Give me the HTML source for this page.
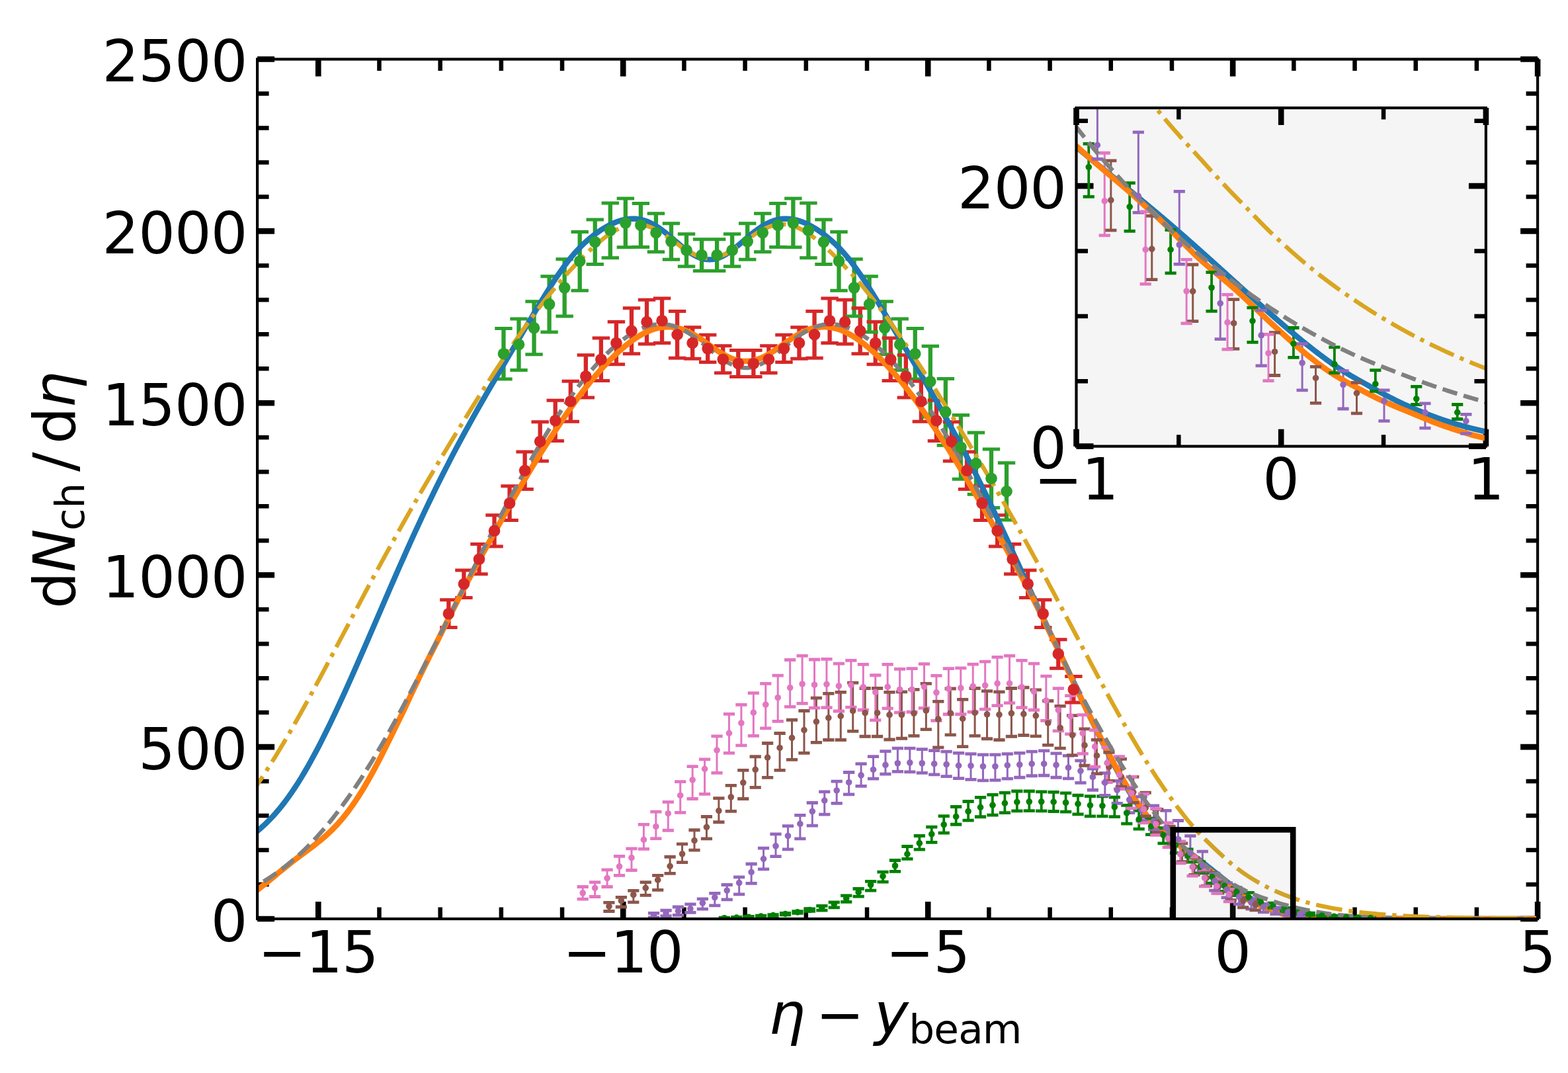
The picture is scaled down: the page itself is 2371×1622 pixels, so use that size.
<!DOCTYPE html>
<html lang="en"><head><meta charset="utf-8"><title>dNch/dη vs η − y_beam</title><style>html,body{margin:0;padding:0;background:#fff}svg{display:block}</style></head><body>
<svg xmlns="http://www.w3.org/2000/svg" width="2371" height="1622" viewBox="0 0 2371 1622" font-family="'DejaVu Sans','Liberation Sans',sans-serif" fill="#000">
<rect width="2371" height="1622" fill="#fff"/>
<defs><clipPath id="cm"><rect x="389.1" y="89.5" width="1936" height="1299.5"/></clipPath>
<clipPath id="ci"><rect x="1627.5" y="163.1" width="619.4" height="511.55"/></clipPath></defs>
<path d="M573.48 1389v-17.5M573.48 89.5v17.5M665.67 1389v-17.5M665.67 89.5v17.5M757.86 1389v-17.5M757.86 89.5v17.5M850.05 1389v-17.5M850.05 89.5v17.5M1034.43 1389v-17.5M1034.43 89.5v17.5M1126.62 1389v-17.5M1126.62 89.5v17.5M1218.81 1389v-17.5M1218.81 89.5v17.5M1311 1389v-17.5M1311 89.5v17.5M1495.39 1389v-17.5M1495.39 89.5v17.5M1587.58 1389v-17.5M1587.58 89.5v17.5M1679.77 1389v-17.5M1679.77 89.5v17.5M1771.96 1389v-17.5M1771.96 89.5v17.5M1956.34 1389v-17.5M1956.34 89.5v17.5M2048.53 1389v-17.5M2048.53 89.5v17.5M2140.72 1389v-17.5M2140.72 89.5v17.5M2232.91 1389v-17.5M2232.91 89.5v17.5M389.1 1337.02h17.5M2325.1 1337.02h-17.5M389.1 1285.04h17.5M2325.1 1285.04h-17.5M389.1 1233.06h17.5M2325.1 1233.06h-17.5M389.1 1181.08h17.5M2325.1 1181.08h-17.5M389.1 1077.12h17.5M2325.1 1077.12h-17.5M389.1 1025.14h17.5M2325.1 1025.14h-17.5M389.1 973.16h17.5M2325.1 973.16h-17.5M389.1 921.18h17.5M2325.1 921.18h-17.5M389.1 817.22h17.5M2325.1 817.22h-17.5M389.1 765.24h17.5M2325.1 765.24h-17.5M389.1 713.26h17.5M2325.1 713.26h-17.5M389.1 661.28h17.5M2325.1 661.28h-17.5M389.1 557.32h17.5M2325.1 557.32h-17.5M389.1 505.34h17.5M2325.1 505.34h-17.5M389.1 453.36h17.5M2325.1 453.36h-17.5M389.1 401.38h17.5M2325.1 401.38h-17.5M389.1 297.42h17.5M2325.1 297.42h-17.5M389.1 245.44h17.5M2325.1 245.44h-17.5M389.1 193.46h17.5M2325.1 193.46h-17.5M389.1 141.48h17.5M2325.1 141.48h-17.5" stroke="#000" stroke-width="6.5" fill="none"/>
<path d="M481.29 1389v-26M481.29 89.5v26M942.24 1389v-26M942.24 89.5v26M1403.2 1389v-26M1403.2 89.5v26M1864.15 1389v-26M1864.15 89.5v26M2325.1 1389v-26M2325.1 89.5v26M389.1 1389h26M2325.1 1389h-26M389.1 1129.1h26M2325.1 1129.1h-26M389.1 869.2h26M2325.1 869.2h-26M389.1 609.3h26M2325.1 609.3h-26M389.1 349.4h26M2325.1 349.4h-26M389.1 89.5h26M2325.1 89.5h-26" stroke="#000" stroke-width="8.6" fill="none"/>
<g clip-path="url(#cm)">
<path d="M761.46 572.97V496.56M784.5 559.4V481.95M807.55 535.7V455.65M830.6 502.01V417.81M853.65 478.05V391.76M876.7 439.27V350.39M899.74 399.61V332.04M922.79 389.63V306.88M945.84 373.83V300.02M968.89 373.57V307.56M991.93 380.85V322.63M1014.98 392.28V337.7M1038.03 402.68V353.82M1061.08 409.54V361.72M1084.12 409.54V361.72M1107.17 402.68V353.82M1130.22 392.28V337.7M1153.27 380.85V322.63M1176.31 373.57V307.56M1199.36 373.83V300.02M1222.41 389.63V306.88M1245.46 399.61V332.04M1268.5 439.27V350.39M1291.55 478.05V391.76M1314.6 502.01V417.81M1337.65 535.7V455.65M1360.7 559.4V481.95M1383.74 572.97V496.56M1406.79 630.35V523.27M1429.84 673.24V572.39M1452.89 724.28V627.6M1475.93 747.15V654.11M1498.98 767.48V679.11M1522.03 786.03V699.75" stroke="#2ca02c" stroke-width="6.3" fill="none"/>
<path d="M678.39 948.57V906.78M701.44 903.4V862.03M724.49 867.8V822.57M747.54 826V778.81M770.58 786.55V734.78M793.63 739.61V682.96M816.68 696.94V637.68M839.73 666.48V605.14M862.77 637.21V576.19M885.82 600.88V536.63M908.87 575.51V511.06M931.92 550.67V486.52M954.97 534.66V465.63M978.01 520.1V453.15M1001.06 518.59V451.02M1024.11 541.21V470.51M1047.16 542.35V494.84M1070.2 547.55V506.28M1093.25 563.77V522.81M1116.3 569.48V529.56M1139.35 569.48V529.56M1162.39 563.77V522.81M1185.44 547.55V506.28M1208.49 542.35V494.84M1231.54 541.21V470.51M1254.58 518.59V451.02M1277.63 520.1V453.15M1300.68 534.66V465.63M1323.73 550.67V486.52M1346.77 575.51V511.06M1369.82 600.88V536.63M1392.87 637.21V576.19M1415.92 666.48V605.14M1438.97 696.94V637.68M1462.01 739.61V682.96M1485.06 786.55V734.78M1508.11 826V778.81M1531.16 867.8V822.57M1554.2 903.4V862.03M1577.25 948.57V906.78M1600.3 1010.33V966.66M1623.35 1062.05V1022.54" stroke="#d62728" stroke-width="6.3" fill="none"/>
<path d="M1095.33 1388.35V1387.08M1113.76 1387.79V1386.4M1132.2 1387.04V1385.5M1150.64 1386.01V1384.27M1169.08 1384.61V1382.59M1187.52 1382.74V1380.34M1205.95 1380.4V1377.53M1224.39 1377.36V1373.88M1242.83 1376.21V1369.33M1261.27 1371.91V1363.82M1279.71 1363.3V1353.84M1298.14 1355.22V1343.51M1316.58 1346.09V1332.32M1335.02 1333.18V1318.21M1353.46 1317.35V1300.48M1371.9 1298.42V1279.48M1390.33 1284.13V1263.48M1408.77 1273.46V1250.22M1427.21 1259.17V1233.7M1445.65 1246.27V1219.52M1464.09 1240.05V1211.52M1482.53 1234.77V1205.35M1500.96 1232.13V1201.3M1519.4 1228.6V1198.31M1537.84 1225.96V1196.02M1556.28 1225.61V1196.02M1574.72 1225.96V1196.9M1593.15 1226.49V1197.43M1611.59 1227.18V1198.78M1630.03 1230.81V1202.25M1648.47 1233.78V1203.62M1666.91 1233.89V1203.73M1685.34 1234.66V1205.09M1703.78 1245.13V1217.31M1722.22 1253.05V1225.31M1740.66 1261.64V1237.2M1759.1 1274.85V1251.73M1777.53 1289.3V1268.19M1795.97 1303.06V1283.83M1814.41 1319.86V1302.58M1832.85 1335.04V1319.51M1851.29 1347.43V1333.65M1869.73 1353.53V1341.67M1888.16 1359.65V1349.44M1906.6 1367.01V1358.61M1925.04 1372.32V1365.16M1943.48 1378.13V1372.32M1961.92 1381.35V1376.94M1980.35 1383.64V1380.18M1998.79 1385.28V1382.49M2017.23 1386.47V1384.18M2035.67 1387.31V1385.36M2054.11 1387.93V1386.23M2072.54 1388.37V1386.86" stroke="#008000" stroke-width="3.8" fill="none"/>
<path d="M988.61 1386.84V1380.33M1007.05 1384.73V1376.27M1025.49 1383.32V1370.99M1043.93 1379.45V1366.94M1062.37 1374.15V1358.83M1080.81 1368.93V1350.3M1099.24 1359.88V1337.51M1117.68 1351.87V1325.84M1136.12 1335.33V1305.99M1154.56 1313.83V1282.05M1173 1294.68V1260.9M1191.43 1283.8V1248.71M1209.87 1267.87V1232.43M1228.31 1248.19V1213.52M1246.75 1231.18V1196.88M1265.19 1214.47V1181.12M1283.62 1200.89V1167.49M1302.06 1188.45V1154.63M1320.5 1177.17V1143.71M1338.94 1170.13V1135.61M1357.38 1166.43V1131.2M1375.81 1166.96V1131.2M1394.25 1168.37V1132.61M1412.69 1170.83V1134.72M1431.13 1173.65V1136.13M1449.57 1176.64V1138.42M1468.01 1178.41V1139.66M1486.44 1179.82V1140.89M1504.88 1179.29V1140.89M1523.32 1177.17V1139.66M1541.76 1175.24V1138.42M1560.2 1172.77V1136.13M1578.63 1172.24V1134.9M1597.07 1175.24V1138.78M1615.51 1176.87V1142.3M1633.95 1183.36V1149.94M1652.39 1194.26V1162.12M1670.82 1202.45V1168.61M1689.26 1214.3V1180.28M1707.7 1228.61V1191.71M1726.14 1240.91V1204.45M1744.58 1253.86V1217.85M1763.01 1260.87V1225.31M1781.45 1274.3V1240.5M1799.89 1295.69V1263.58M1818.33 1316.26V1287.21M1836.77 1346.17V1320.21M1855.21 1356.85V1334.69M1873.64 1366.62V1348.02M1892.08 1374.03V1358.86M1910.52 1378.91V1366.6M1928.96 1381.71V1371.91M1947.4 1383.91V1376.25M1965.83 1385.36V1379.49" stroke="#9467bd" stroke-width="3" fill="none"/>
<path d="M920.95 1377.51V1364.47M939.38 1370.99V1356.37M957.82 1363.95V1346.33M976.26 1353.38V1333.65M994.7 1345.45V1323.43M1013.14 1320.44V1295.25M1031.58 1303.53V1275.88M1050.01 1285.04V1254.74M1068.45 1267.95V1234.49M1086.89 1242.77V1206.71M1105.33 1226.44V1187.34M1123.77 1207.5V1164.44M1142.2 1190.33V1143.74M1160.64 1175.36V1123.49M1179.08 1164.35V1108.48M1197.52 1148.46V1088.23M1215.96 1138.42V1074.49M1234.39 1122.4V1055.11M1252.83 1118.52V1048.42M1271.27 1118.52V1046.31M1289.71 1105.31V1032.21M1308.15 1113.24V1040.49M1326.58 1113.24V1040.49M1345.02 1117.99V1046.31M1363.46 1116.23V1045.78M1381.9 1112.36V1042.43M1400.34 1102.67V1033.45M1418.78 1129.97V1060.4M1437.21 1110.95V1041.02M1455.65 1128.56V1057.4M1474.09 1112.36V1040.49M1492.53 1116.76V1044.54M1510.97 1118.52V1045.78M1529.4 1113.24V1040.49M1547.84 1111.48V1039.26M1566.28 1112.88V1042.78M1584.72 1126.45V1059.52M1603.16 1131.2V1067.44M1621.59 1141.69V1081.53M1640.03 1157.27V1101.79M1658.47 1169.54V1118.41M1676.91 1180.39V1137.35M1695.35 1189.42V1147.3M1713.78 1213.42V1174.45M1732.22 1233.9V1198.23M1750.66 1258.34V1223.33M1769.1 1280.54V1249.13M1787.54 1302.74V1274.93M1805.98 1322.41V1297M1824.41 1339.05V1316.44M1842.85 1350.11V1330.33M1861.29 1360.69V1343.59M1879.73 1371.75V1357.2M1898.17 1375.84V1363.57" stroke="#8c564b" stroke-width="3" fill="none"/>
<path d="M881.21 1359.19V1340.52M899.65 1355.49V1333.65M918.09 1340.52V1314.8M936.53 1323.43V1294.37M954.97 1315.51V1282.92M973.4 1283.45V1246.29M991.84 1267.6V1227.09M1010.28 1255.27V1212.29M1028.72 1228.32V1181.65M1047.16 1207.5V1158.54M1065.59 1200.46V1147.97M1084.03 1168.4V1112.88M1102.47 1138.42V1079.42M1120.91 1126.8V1065.33M1139.35 1112.36V1047.71M1157.78 1100.91V1033.45M1176.22 1090.34V1021.12M1194.66 1068.32V997.52M1213.1 1063.39V991.35M1231.54 1070.08V996.99M1249.97 1069.56V996.46M1268.41 1075.02V1003.15M1286.85 1069.2V998.4M1305.29 1073.25V1004.39M1323.73 1088.58V1020.77M1342.17 1070.96V1004.39M1360.6 1077.13V1011.43M1379.04 1076.25V1010.55M1397.48 1070.44V1003.68M1415.92 1089.46V1021.29M1434.36 1079.77V1010.55M1452.79 1079.77V1009.85M1471.23 1076.25V1004.03M1489.67 1072.2V1000.16M1508.11 1066.56V993.47M1526.55 1062.69V991.35M1544.98 1069.56V998.4M1563.42 1073.25V1003.15M1581.86 1089.46V1022.18M1600.3 1104.78V1040.67M1618.74 1109.71V1051.59M1637.17 1139.37V1080.65M1655.61 1159.15V1103.77M1674.05 1182.59V1129.75M1692.49 1192.72V1143.73M1710.93 1221.89V1174.23M1729.37 1243.8V1200.21M1747.8 1262.3V1222.67M1766.24 1280.79V1243.8M1784.68 1304.77V1271.85M1803.12 1324.22V1295.26M1821.56 1339.93V1314.45M1839.99 1350.29V1328.41M1858.43 1362.85V1344.29" stroke="#e377c2" stroke-width="3" fill="none"/>
<path d="M748.26 572.97h26.4M748.26 496.56h26.4M771.3 559.4h26.4M771.3 481.95h26.4M794.35 535.7h26.4M794.35 455.65h26.4M817.4 502.01h26.4M817.4 417.81h26.4M840.45 478.05h26.4M840.45 391.76h26.4M863.5 439.27h26.4M863.5 350.39h26.4M886.54 399.61h26.4M886.54 332.04h26.4M909.59 389.63h26.4M909.59 306.88h26.4M932.64 373.83h26.4M932.64 300.02h26.4M955.69 373.57h26.4M955.69 307.56h26.4M978.73 380.85h26.4M978.73 322.63h26.4M1001.78 392.28h26.4M1001.78 337.7h26.4M1024.83 402.68h26.4M1024.83 353.82h26.4M1047.88 409.54h26.4M1047.88 361.72h26.4M1070.92 409.54h26.4M1070.92 361.72h26.4M1093.97 402.68h26.4M1093.97 353.82h26.4M1117.02 392.28h26.4M1117.02 337.7h26.4M1140.07 380.85h26.4M1140.07 322.63h26.4M1163.11 373.57h26.4M1163.11 307.56h26.4M1186.16 373.83h26.4M1186.16 300.02h26.4M1209.21 389.63h26.4M1209.21 306.88h26.4M1232.26 399.61h26.4M1232.26 332.04h26.4M1255.3 439.27h26.4M1255.3 350.39h26.4M1278.35 478.05h26.4M1278.35 391.76h26.4M1301.4 502.01h26.4M1301.4 417.81h26.4M1324.45 535.7h26.4M1324.45 455.65h26.4M1347.5 559.4h26.4M1347.5 481.95h26.4M1370.54 572.97h26.4M1370.54 496.56h26.4M1393.59 630.35h26.4M1393.59 523.27h26.4M1416.64 673.24h26.4M1416.64 572.39h26.4M1439.69 724.28h26.4M1439.69 627.6h26.4M1462.73 747.15h26.4M1462.73 654.11h26.4M1485.78 767.48h26.4M1485.78 679.11h26.4M1508.83 786.03h26.4M1508.83 699.75h26.4" stroke="#2ca02c" stroke-width="5" fill="none"/>
<path d="M665.19 948.57h26.4M665.19 906.78h26.4M688.24 903.4h26.4M688.24 862.03h26.4M711.29 867.8h26.4M711.29 822.57h26.4M734.34 826h26.4M734.34 778.81h26.4M757.38 786.55h26.4M757.38 734.78h26.4M780.43 739.61h26.4M780.43 682.96h26.4M803.48 696.94h26.4M803.48 637.68h26.4M826.53 666.48h26.4M826.53 605.14h26.4M849.57 637.21h26.4M849.57 576.19h26.4M872.62 600.88h26.4M872.62 536.63h26.4M895.67 575.51h26.4M895.67 511.06h26.4M918.72 550.67h26.4M918.72 486.52h26.4M941.77 534.66h26.4M941.77 465.63h26.4M964.81 520.1h26.4M964.81 453.15h26.4M987.86 518.59h26.4M987.86 451.02h26.4M1010.91 541.21h26.4M1010.91 470.51h26.4M1033.96 542.35h26.4M1033.96 494.84h26.4M1057 547.55h26.4M1057 506.28h26.4M1080.05 563.77h26.4M1080.05 522.81h26.4M1103.1 569.48h26.4M1103.1 529.56h26.4M1126.15 569.48h26.4M1126.15 529.56h26.4M1149.19 563.77h26.4M1149.19 522.81h26.4M1172.24 547.55h26.4M1172.24 506.28h26.4M1195.29 542.35h26.4M1195.29 494.84h26.4M1218.34 541.21h26.4M1218.34 470.51h26.4M1241.38 518.59h26.4M1241.38 451.02h26.4M1264.43 520.1h26.4M1264.43 453.15h26.4M1287.48 534.66h26.4M1287.48 465.63h26.4M1310.53 550.67h26.4M1310.53 486.52h26.4M1333.57 575.51h26.4M1333.57 511.06h26.4M1356.62 600.88h26.4M1356.62 536.63h26.4M1379.67 637.21h26.4M1379.67 576.19h26.4M1402.72 666.48h26.4M1402.72 605.14h26.4M1425.77 696.94h26.4M1425.77 637.68h26.4M1448.81 739.61h26.4M1448.81 682.96h26.4M1471.86 786.55h26.4M1471.86 734.78h26.4M1494.91 826h26.4M1494.91 778.81h26.4M1517.96 867.8h26.4M1517.96 822.57h26.4M1541 903.4h26.4M1541 862.03h26.4M1564.05 948.57h26.4M1564.05 906.78h26.4M1587.1 1010.33h26.4M1587.1 966.66h26.4M1610.15 1062.05h26.4M1610.15 1022.54h26.4" stroke="#d62728" stroke-width="5" fill="none"/>
<polyline points="387.26,1257.88 392.12,1253.78 396.98,1249.47 401.84,1244.94 406.7,1240.15 411.56,1235.09 416.42,1229.74 421.29,1224.09 426.15,1218.14 431.01,1211.87 435.87,1205.28 440.73,1198.38 445.59,1191.17 450.45,1183.66 455.32,1175.85 460.18,1167.74 465.04,1159.36 469.9,1150.72 474.76,1141.81 479.62,1132.67 484.48,1123.3 489.35,1113.71 494.21,1103.93 499.07,1093.95 503.93,1083.8 508.79,1073.49 513.65,1063.03 518.51,1052.44 523.37,1041.73 528.24,1030.91 533.1,1019.99 537.96,1008.98 542.82,997.91 547.68,986.77 552.54,975.58 557.4,964.36 562.27,953.11 567.13,941.84 571.99,930.57 576.85,919.3 581.71,908.06 586.57,896.83 591.43,885.65 596.3,874.51 601.16,863.42 606.02,852.4 610.88,841.44 615.74,830.57 620.6,819.78 625.46,809.08 630.32,798.48 635.19,787.98 640.05,777.59 644.91,767.31 649.77,757.14 654.63,747.09 659.49,737.15 664.35,727.32 669.22,717.62 674.08,708.03 678.94,698.55 683.8,689.19 688.66,679.93 693.52,670.78 698.38,661.74 703.25,652.79 708.11,643.94 712.97,635.17 717.83,626.49 722.69,617.88 727.55,609.35 732.41,600.88 737.28,592.47 742.14,584.11 747,575.8 751.86,567.52 756.72,559.28 761.58,551.05 766.44,542.85 771.3,534.66 776.17,526.48 781.03,518.29 785.89,510.1 790.75,501.91 795.61,493.7 800.47,485.49 805.33,477.3 810.2,469.15 815.06,461.05 819.92,453.04 824.78,445.13 829.64,437.35 834.5,429.72 839.36,422.28 844.23,415.05 849.09,408.06 853.95,401.34 858.81,394.92 863.67,388.85 868.53,383.13 873.39,377.77 878.25,372.74 883.12,368.03 887.98,363.61 892.84,359.47 897.7,355.6 902.56,351.98 907.42,348.61 912.28,345.48 917.15,342.59 922.01,339.97 926.87,337.63 931.73,335.61 936.59,333.9 941.45,332.54 946.31,331.53 951.18,330.89 956.04,330.61 960.9,330.74 965.76,331.28 970.62,332.25 975.48,333.67 980.34,335.51 985.21,337.78 990.07,340.45 994.93,343.5 999.79,346.87 1004.65,350.53 1009.51,354.42 1014.37,358.47 1019.23,362.61 1024.1,366.76 1028.96,370.84 1033.82,374.79 1038.68,378.52 1043.54,381.96 1048.4,385.03 1053.26,387.66 1058.13,389.76 1062.99,391.29 1067.85,392.2 1072.71,392.46 1077.57,392.17 1082.43,391.24 1087.29,389.68 1092.16,387.55 1097.02,384.9 1101.88,381.81 1106.74,378.35 1111.6,374.61 1116.46,370.66 1121.32,366.57 1126.18,362.42 1131.05,358.29 1135.91,354.24 1140.77,350.36 1145.63,346.71 1150.49,343.35 1155.35,340.32 1160.21,337.67 1165.08,335.42 1169.94,333.59 1174.8,332.2 1179.66,331.25 1184.52,330.72 1189.38,330.62 1194.24,330.91 1199.11,331.57 1203.97,332.59 1208.83,333.97 1213.69,335.69 1218.55,337.73 1223.41,340.08 1228.27,342.71 1233.14,345.61 1238,348.76 1242.86,352.14 1247.72,355.77 1252.58,359.65 1257.44,363.8 1262.3,368.23 1267.16,372.96 1272.03,378.01 1276.89,383.38 1281.75,389.11 1286.61,395.2 1291.47,401.63 1296.33,408.37 1301.19,415.37 1306.06,422.61 1310.92,430.06 1315.78,437.7 1320.64,445.48 1325.5,453.4 1330.36,461.42 1335.22,469.51 1340.09,477.67 1344.95,485.86 1349.81,494.07 1354.67,502.28 1359.53,510.47 1364.39,518.66 1369.25,526.84 1374.11,535.03 1378.98,543.22 1383.84,551.42 1388.7,559.65 1393.56,567.89 1398.42,576.17 1403.28,584.49 1408.14,592.85 1413.01,601.26 1417.87,609.73 1422.73,618.27 1427.59,626.88 1432.45,635.56 1437.31,644.33 1442.17,653.19 1447.04,662.14 1451.9,671.19 1456.76,680.35 1461.62,689.61 1466.48,698.98 1471.34,708.46 1476.2,718.05 1481.06,727.76 1485.93,737.59 1490.79,747.54 1495.65,757.6 1500.51,767.77 1505.37,778.06 1510.23,788.45 1515.09,798.95 1519.96,809.5 1524.82,820.09 1529.68,830.71 1534.54,841.36 1539.4,852.05 1544.26,862.79 1549.12,873.56 1553.99,884.3 1558.85,894.84 1563.71,905.21 1568.57,915.47 1573.43,925.67 1578.29,935.87 1583.15,946.12 1588.02,956.47 1592.88,966.8 1597.74,977.03 1602.6,987.22 1607.46,997.43 1612.32,1007.69 1617.18,1018.07 1622.04,1028.58 1626.91,1039.05 1631.77,1049.42 1636.63,1059.69 1641.49,1069.85 1646.35,1079.89 1651.21,1089.82 1656.07,1099.7 1660.94,1109.65 1665.8,1119.58 1670.66,1129.41 1675.52,1139.05 1680.38,1148.4 1685.24,1157.55 1690.1,1166.54 1694.97,1175.33 1699.83,1183.88 1704.69,1192.13 1709.55,1200.04 1714.41,1207.58 1719.27,1214.76 1724.13,1221.74 1728.99,1228.45 1733.86,1234.74 1738.72,1240.52 1743.58,1245.65 1748.44,1250.23 1753.3,1254.56 1758.16,1258.67 1763.02,1262.6 1767.89,1266.38 1772.75,1270.04 1777.61,1273.61 1782.47,1277.12 1787.33,1280.59 1792.19,1284.07 1797.05,1287.58 1801.92,1291.13 1806.78,1294.73 1811.64,1298.37 1816.5,1302.07 1821.36,1305.84 1826.22,1309.66 1831.08,1313.52 1835.95,1317.4 1840.81,1321.3 1845.67,1325.2 1850.53,1329.1 1855.39,1332.98 1860.25,1336.8 1865.11,1340.55 1869.97,1344.2 1874.84,1347.73 1879.7,1351.12 1884.56,1354.37 1889.42,1357.42 1894.28,1360.14 1899.14,1362.63 1904,1365.03 1908.87,1367.45 1913.73,1369.73 1918.59,1371.85 1923.45,1373.8 1928.31,1375.59 1933.17,1377.24 1938.03,1378.75 1942.9,1380.11 1947.76,1381.33 1952.62,1382.41 1957.48,1383.36 1962.34,1384.17 1967.2,1384.86 1972.06,1385.43 1976.92,1385.9 1981.79,1386.27 1986.65,1386.57 1991.51,1386.79 1996.37,1387.09 2001.23,1387.43 2006.09,1387.72 2010.95,1387.98 2015.82,1388.21 2020.68,1388.42 2025.54,1388.59 2030.4,1388.74 2035.26,1388.87 2040.12,1388.98 2044.98,1389 2049.85,1389 2054.71,1389 2059.57,1389 2064.43,1389 2069.29,1388.98 2074.15,1388.95 2079.01,1388.92 2083.88,1388.89 2088.74,1388.86 2093.6,1388.83 2098.46,1388.8 2103.32,1388.78 2108.18,1388.76 2113.04,1388.75 2117.9,1388.75 2122.77,1388.77 2127.63,1388.79 2132.49,1388.83 2137.35,1388.85 2142.21,1388.87 2147.07,1388.88 2151.93,1388.89 2156.8,1388.91 2161.66,1388.92 2166.52,1388.93 2171.38,1388.93 2176.24,1388.94 2181.1,1388.95 2185.96,1388.95 2190.83,1388.96 2195.69,1388.96 2200.55,1388.97 2205.41,1388.97 2210.27,1388.97 2215.13,1388.98 2219.99,1388.98 2224.85,1388.98 2229.72,1388.98 2234.58,1388.99 2239.44,1388.99 2244.3,1388.99 2249.16,1388.99 2254.02,1388.99 2258.88,1388.99 2263.75,1388.99 2268.61,1388.99 2273.47,1388.99 2278.33,1389 2283.19,1389 2288.05,1389 2292.91,1389 2297.78,1389 2302.64,1389 2307.5,1389 2312.36,1389 2317.22,1389 2322.08,1389 2326.94,1389" fill="none" stroke="#1f77b4" stroke-width="8.33" stroke-linejoin="round" stroke-linecap="butt"/>
<polyline points="387.26,1346.69 392.12,1343 396.98,1339.19 401.84,1335.28 406.7,1331.32 411.56,1327.31 416.42,1323.3 421.29,1319.29 426.15,1315.31 431.01,1311.38 435.87,1307.51 440.73,1303.7 445.59,1299.95 450.45,1296.26 455.32,1292.61 460.18,1288.99 465.04,1285.37 469.9,1281.72 474.76,1278.02 479.62,1274.22 484.48,1270.29 489.35,1266.2 494.21,1261.91 499.07,1257.38 503.93,1252.6 508.79,1247.53 513.65,1242.15 518.51,1236.44 523.37,1230.4 528.24,1224.01 533.1,1217.26 537.96,1210.17 542.82,1202.73 547.68,1194.95 552.54,1186.84 557.4,1178.41 562.27,1169.68 567.13,1160.67 571.99,1151.43 576.85,1141.98 581.71,1132.37 586.57,1122.63 591.43,1112.78 596.3,1102.87 601.16,1092.93 606.02,1082.99 610.88,1073.08 615.74,1062.72 620.6,1052.29 625.46,1041.91 630.32,1031.63 635.19,1021.47 640.05,1011.42 644.91,1001.53 649.77,991.84 654.63,982.32 659.49,972.78 664.35,963.05 669.22,953.2 674.08,943.35 678.94,933.7 683.8,924.07 688.66,914.38 693.52,904.74 698.38,895.28 703.25,886.11 708.11,877.07 712.97,868.08 717.83,859.13 722.69,850.18 727.55,841.26 732.41,832.46 737.28,823.76 742.14,815.1 747,806.41 751.86,797.67 756.72,788.92 761.58,780.2 766.44,771.53 771.3,762.93 776.17,754.43 781.03,746.01 785.89,737.64 790.75,729.33 795.61,721.08 800.47,712.93 805.33,704.88 810.2,696.94 815.06,689.07 819.92,681.32 824.78,673.77 829.64,666.36 834.5,658.99 839.36,651.57 844.23,644.17 849.09,636.86 853.95,629.57 858.81,622.43 863.67,615.46 868.53,608.67 873.39,602.03 878.25,595.56 883.12,589.25 887.98,583.09 892.84,577.09 897.7,571.25 902.56,565.57 907.42,560.06 912.28,554.71 917.15,549.54 922.01,544.54 926.87,539.71 931.73,535.07 936.59,530.61 941.45,526.34 946.31,522.28 951.18,518.43 956.04,514.81 960.9,511.43 965.76,508.31 970.62,505.45 975.48,502.89 980.34,500.62 985.21,498.68 990.07,497.06 994.93,495.8 999.79,494.88 1004.65,494.32 1009.51,494.13 1014.37,494.29 1019.23,494.8 1024.1,495.68 1028.96,496.93 1033.82,498.55 1038.68,500.53 1043.54,502.84 1048.4,505.46 1053.26,508.36 1058.13,511.48 1062.99,514.77 1067.85,518.19 1072.71,521.65 1077.57,525.11 1082.43,528.5 1087.29,531.74 1092.16,534.77 1097.02,537.53 1101.88,539.97 1106.74,542.05 1111.6,543.71 1116.46,544.94 1121.32,545.71 1126.18,546.03 1131.05,545.97 1135.91,545.51 1140.77,544.59 1145.63,543.22 1150.49,541.41 1155.35,539.22 1160.21,536.66 1165.08,533.81 1169.94,530.7 1174.8,527.41 1179.66,523.99 1184.52,520.52 1189.38,517.06 1194.24,513.68 1199.11,510.44 1203.97,507.38 1208.83,504.58 1213.69,502.05 1218.55,499.85 1223.41,497.98 1228.27,496.48 1233.14,495.35 1238,494.59 1242.86,494.2 1247.72,494.15 1252.58,494.46 1257.44,495.14 1262.3,496.17 1267.16,497.55 1272.03,499.28 1276.89,501.33 1281.75,503.69 1286.61,506.35 1291.47,509.3 1296.33,512.51 1301.19,515.97 1306.06,519.66 1310.92,523.58 1315.78,527.71 1320.64,532.04 1325.5,536.56 1330.36,541.27 1335.22,546.15 1340.09,551.21 1344.95,556.44 1349.81,561.84 1354.67,567.41 1359.53,573.14 1364.39,579.03 1369.25,585.08 1374.11,591.29 1378.98,597.66 1383.84,604.18 1388.7,610.87 1393.56,617.72 1398.42,624.74 1403.28,631.94 1408.14,639.24 1413.01,646.57 1417.87,654 1422.73,661.39 1427.59,668.77 1432.45,676.21 1437.31,683.82 1442.17,691.63 1447.04,699.52 1451.9,707.5 1456.76,715.57 1461.62,723.76 1466.48,732.04 1471.34,740.37 1476.2,748.75 1481.06,757.19 1485.93,765.73 1490.79,774.35 1495.65,783.05 1500.51,791.78 1505.37,800.52 1510.23,809.25 1515.09,817.93 1519.96,826.6 1524.82,835.32 1529.68,844.15 1534.54,853.1 1539.4,862.05 1544.26,871.01 1549.12,880.02 1553.99,889.08 1558.85,898.34 1563.71,907.87 1568.57,917.54 1573.43,927.49 1578.29,937.4 1583.15,947.46 1588.02,957.67 1592.88,967.85 1597.74,977.88 1602.6,987.75 1607.46,997.7 1612.32,1007.97 1617.18,1018.44 1622.04,1028.88 1626.91,1039.11 1631.77,1049.24 1636.63,1059.34 1641.49,1069.42 1646.35,1079.24 1651.21,1088.87 1656.07,1098.6 1660.94,1108.35 1665.8,1118.07 1670.66,1127.72 1675.52,1137.25 1680.38,1146.62 1685.24,1155.78 1690.1,1164.68 1694.97,1173.33 1699.83,1181.71 1704.69,1189.81 1709.55,1197.64 1714.41,1205.21 1719.27,1212.53 1724.13,1219.5 1728.99,1226.13 1733.86,1232.41 1738.72,1238.34 1743.58,1243.94 1748.44,1249.11 1753.3,1253.74 1758.16,1257.98 1763.02,1261.96 1767.89,1265.82 1772.75,1269.71 1777.61,1273.55 1782.47,1277.28 1787.33,1280.94 1792.19,1284.59 1797.05,1288.34 1801.92,1292.2 1806.78,1296.14 1811.64,1300.19 1816.5,1304.53 1821.36,1308.94 1826.22,1313.16 1831.08,1317.01 1835.95,1320.64 1840.81,1324.27 1845.67,1328.1 1850.53,1332.16 1855.39,1336.26 1860.25,1340.31 1865.11,1344.24 1869.97,1348.07 1874.84,1351.75 1879.7,1355.21 1884.56,1358.38 1889.42,1361.18 1894.28,1363.69 1899.14,1366.04 1904,1368.31 1908.87,1370.42 1913.73,1372.37 1918.59,1374.18 1923.45,1375.94 1928.31,1377.74 1933.17,1379.47 1938.03,1381.03 1942.9,1382.48 1947.76,1383.85 1952.62,1385.02 1957.48,1385.92 1962.34,1386.63 1967.2,1387.23 1972.06,1387.71 1976.92,1388.07 1981.79,1388.29 1986.65,1388.34 1991.51,1388.16 1996.37,1388.19 2001.23,1388.35 2006.09,1388.47 2010.95,1388.56 2015.82,1388.63 2020.68,1388.66 2025.54,1388.67 2030.4,1388.67 2035.26,1388.65 2040.12,1388.62 2044.98,1388.59 2049.85,1388.55 2054.71,1388.51 2059.57,1388.49 2064.43,1388.47 2069.29,1388.46 2074.15,1388.48 2079.01,1388.52 2083.88,1388.57 2088.74,1388.62 2093.6,1388.66 2098.46,1388.69 2103.32,1388.73 2108.18,1388.76 2113.04,1388.78 2117.9,1388.81 2122.77,1388.83 2127.63,1388.85 2132.49,1388.86 2137.35,1388.88 2142.21,1388.89 2147.07,1388.91 2151.93,1388.92 2156.8,1388.93 2161.66,1388.93 2166.52,1388.94 2171.38,1388.95 2176.24,1388.95 2181.1,1388.96 2185.96,1388.96 2190.83,1388.97 2195.69,1388.97 2200.55,1388.98 2205.41,1388.98 2210.27,1388.98 2215.13,1388.98 2219.99,1388.99 2224.85,1388.99 2229.72,1388.99 2234.58,1388.99 2239.44,1388.99 2244.3,1388.99 2249.16,1388.99 2254.02,1388.99 2258.88,1388.99 2263.75,1389 2268.61,1389 2273.47,1389 2278.33,1389 2283.19,1389 2288.05,1389 2292.91,1389 2297.78,1389 2302.64,1389 2307.5,1389 2312.36,1389 2317.22,1389 2322.08,1389 2326.94,1389" fill="none" stroke="#ff7f0e" stroke-width="8.63" stroke-linejoin="round" stroke-linecap="butt"/>
<path d="M1086.73 1388.35h17.2M1086.73 1387.08h17.2M1105.16 1387.79h17.2M1105.16 1386.4h17.2M1123.6 1387.04h17.2M1123.6 1385.5h17.2M1142.04 1386.01h17.2M1142.04 1384.27h17.2M1160.48 1384.61h17.2M1160.48 1382.59h17.2M1178.92 1382.74h17.2M1178.92 1380.34h17.2M1197.35 1380.4h17.2M1197.35 1377.53h17.2M1215.79 1377.36h17.2M1215.79 1373.88h17.2M1234.23 1376.21h17.2M1234.23 1369.33h17.2M1252.67 1371.91h17.2M1252.67 1363.82h17.2M1271.11 1363.3h17.2M1271.11 1353.84h17.2M1289.54 1355.22h17.2M1289.54 1343.51h17.2M1307.98 1346.09h17.2M1307.98 1332.32h17.2M1326.42 1333.18h17.2M1326.42 1318.21h17.2M1344.86 1317.35h17.2M1344.86 1300.48h17.2M1363.3 1298.42h17.2M1363.3 1279.48h17.2M1381.73 1284.13h17.2M1381.73 1263.48h17.2M1400.17 1273.46h17.2M1400.17 1250.22h17.2M1418.61 1259.17h17.2M1418.61 1233.7h17.2M1437.05 1246.27h17.2M1437.05 1219.52h17.2M1455.49 1240.05h17.2M1455.49 1211.52h17.2M1473.93 1234.77h17.2M1473.93 1205.35h17.2M1492.36 1232.13h17.2M1492.36 1201.3h17.2M1510.8 1228.6h17.2M1510.8 1198.31h17.2M1529.24 1225.96h17.2M1529.24 1196.02h17.2M1547.68 1225.61h17.2M1547.68 1196.02h17.2M1566.12 1225.96h17.2M1566.12 1196.9h17.2M1584.55 1226.49h17.2M1584.55 1197.43h17.2M1602.99 1227.18h17.2M1602.99 1198.78h17.2M1621.43 1230.81h17.2M1621.43 1202.25h17.2M1639.87 1233.78h17.2M1639.87 1203.62h17.2M1658.31 1233.89h17.2M1658.31 1203.73h17.2M1676.74 1234.66h17.2M1676.74 1205.09h17.2M1695.18 1245.13h17.2M1695.18 1217.31h17.2M1713.62 1253.05h17.2M1713.62 1225.31h17.2M1732.06 1261.64h17.2M1732.06 1237.2h17.2M1750.5 1274.85h17.2M1750.5 1251.73h17.2M1768.93 1289.3h17.2M1768.93 1268.19h17.2M1787.37 1303.06h17.2M1787.37 1283.83h17.2M1805.81 1319.86h17.2M1805.81 1302.58h17.2M1824.25 1335.04h17.2M1824.25 1319.51h17.2M1842.69 1347.43h17.2M1842.69 1333.65h17.2M1861.13 1353.53h17.2M1861.13 1341.67h17.2M1879.56 1359.65h17.2M1879.56 1349.44h17.2M1898 1367.01h17.2M1898 1358.61h17.2M1916.44 1372.32h17.2M1916.44 1365.16h17.2M1934.88 1378.13h17.2M1934.88 1372.32h17.2M1953.32 1381.35h17.2M1953.32 1376.94h17.2M1971.75 1383.64h17.2M1971.75 1380.18h17.2M1990.19 1385.28h17.2M1990.19 1382.49h17.2M2008.63 1386.47h17.2M2008.63 1384.18h17.2M2027.07 1387.31h17.2M2027.07 1385.36h17.2M2045.51 1387.93h17.2M2045.51 1386.23h17.2M2063.94 1388.37h17.2M2063.94 1386.86h17.2" stroke="#008000" stroke-width="4.8" fill="none"/>
<path d="M980.01 1386.84h17.2M980.01 1380.33h17.2M998.45 1384.73h17.2M998.45 1376.27h17.2M1016.89 1383.32h17.2M1016.89 1370.99h17.2M1035.33 1379.45h17.2M1035.33 1366.94h17.2M1053.77 1374.15h17.2M1053.77 1358.83h17.2M1072.21 1368.93h17.2M1072.21 1350.3h17.2M1090.64 1359.88h17.2M1090.64 1337.51h17.2M1109.08 1351.87h17.2M1109.08 1325.84h17.2M1127.52 1335.33h17.2M1127.52 1305.99h17.2M1145.96 1313.83h17.2M1145.96 1282.05h17.2M1164.4 1294.68h17.2M1164.4 1260.9h17.2M1182.83 1283.8h17.2M1182.83 1248.71h17.2M1201.27 1267.87h17.2M1201.27 1232.43h17.2M1219.71 1248.19h17.2M1219.71 1213.52h17.2M1238.15 1231.18h17.2M1238.15 1196.88h17.2M1256.59 1214.47h17.2M1256.59 1181.12h17.2M1275.02 1200.89h17.2M1275.02 1167.49h17.2M1293.46 1188.45h17.2M1293.46 1154.63h17.2M1311.9 1177.17h17.2M1311.9 1143.71h17.2M1330.34 1170.13h17.2M1330.34 1135.61h17.2M1348.78 1166.43h17.2M1348.78 1131.2h17.2M1367.21 1166.96h17.2M1367.21 1131.2h17.2M1385.65 1168.37h17.2M1385.65 1132.61h17.2M1404.09 1170.83h17.2M1404.09 1134.72h17.2M1422.53 1173.65h17.2M1422.53 1136.13h17.2M1440.97 1176.64h17.2M1440.97 1138.42h17.2M1459.41 1178.41h17.2M1459.41 1139.66h17.2M1477.84 1179.82h17.2M1477.84 1140.89h17.2M1496.28 1179.29h17.2M1496.28 1140.89h17.2M1514.72 1177.17h17.2M1514.72 1139.66h17.2M1533.16 1175.24h17.2M1533.16 1138.42h17.2M1551.6 1172.77h17.2M1551.6 1136.13h17.2M1570.03 1172.24h17.2M1570.03 1134.9h17.2M1588.47 1175.24h17.2M1588.47 1138.78h17.2M1606.91 1176.87h17.2M1606.91 1142.3h17.2M1625.35 1183.36h17.2M1625.35 1149.94h17.2M1643.79 1194.26h17.2M1643.79 1162.12h17.2M1662.22 1202.45h17.2M1662.22 1168.61h17.2M1680.66 1214.3h17.2M1680.66 1180.28h17.2M1699.1 1228.61h17.2M1699.1 1191.71h17.2M1717.54 1240.91h17.2M1717.54 1204.45h17.2M1735.98 1253.86h17.2M1735.98 1217.85h17.2M1754.41 1260.87h17.2M1754.41 1225.31h17.2M1772.85 1274.3h17.2M1772.85 1240.5h17.2M1791.29 1295.69h17.2M1791.29 1263.58h17.2M1809.73 1316.26h17.2M1809.73 1287.21h17.2M1828.17 1346.17h17.2M1828.17 1320.21h17.2M1846.61 1356.85h17.2M1846.61 1334.69h17.2M1865.04 1366.62h17.2M1865.04 1348.02h17.2M1883.48 1374.03h17.2M1883.48 1358.86h17.2M1901.92 1378.91h17.2M1901.92 1366.6h17.2M1920.36 1381.71h17.2M1920.36 1371.91h17.2M1938.8 1383.91h17.2M1938.8 1376.25h17.2M1957.23 1385.36h17.2M1957.23 1379.49h17.2" stroke="#9467bd" stroke-width="4.8" fill="none"/>
<path d="M912.35 1377.51h17.2M912.35 1364.47h17.2M930.78 1370.99h17.2M930.78 1356.37h17.2M949.22 1363.95h17.2M949.22 1346.33h17.2M967.66 1353.38h17.2M967.66 1333.65h17.2M986.1 1345.45h17.2M986.1 1323.43h17.2M1004.54 1320.44h17.2M1004.54 1295.25h17.2M1022.98 1303.53h17.2M1022.98 1275.88h17.2M1041.41 1285.04h17.2M1041.41 1254.74h17.2M1059.85 1267.95h17.2M1059.85 1234.49h17.2M1078.29 1242.77h17.2M1078.29 1206.71h17.2M1096.73 1226.44h17.2M1096.73 1187.34h17.2M1115.17 1207.5h17.2M1115.17 1164.44h17.2M1133.6 1190.33h17.2M1133.6 1143.74h17.2M1152.04 1175.36h17.2M1152.04 1123.49h17.2M1170.48 1164.35h17.2M1170.48 1108.48h17.2M1188.92 1148.46h17.2M1188.92 1088.23h17.2M1207.36 1138.42h17.2M1207.36 1074.49h17.2M1225.79 1122.4h17.2M1225.79 1055.11h17.2M1244.23 1118.52h17.2M1244.23 1048.42h17.2M1262.67 1118.52h17.2M1262.67 1046.31h17.2M1281.11 1105.31h17.2M1281.11 1032.21h17.2M1299.55 1113.24h17.2M1299.55 1040.49h17.2M1317.98 1113.24h17.2M1317.98 1040.49h17.2M1336.42 1117.99h17.2M1336.42 1046.31h17.2M1354.86 1116.23h17.2M1354.86 1045.78h17.2M1373.3 1112.36h17.2M1373.3 1042.43h17.2M1391.74 1102.67h17.2M1391.74 1033.45h17.2M1410.18 1129.97h17.2M1410.18 1060.4h17.2M1428.61 1110.95h17.2M1428.61 1041.02h17.2M1447.05 1128.56h17.2M1447.05 1057.4h17.2M1465.49 1112.36h17.2M1465.49 1040.49h17.2M1483.93 1116.76h17.2M1483.93 1044.54h17.2M1502.37 1118.52h17.2M1502.37 1045.78h17.2M1520.8 1113.24h17.2M1520.8 1040.49h17.2M1539.24 1111.48h17.2M1539.24 1039.26h17.2M1557.68 1112.88h17.2M1557.68 1042.78h17.2M1576.12 1126.45h17.2M1576.12 1059.52h17.2M1594.56 1131.2h17.2M1594.56 1067.44h17.2M1612.99 1141.69h17.2M1612.99 1081.53h17.2M1631.43 1157.27h17.2M1631.43 1101.79h17.2M1649.87 1169.54h17.2M1649.87 1118.41h17.2M1668.31 1180.39h17.2M1668.31 1137.35h17.2M1686.75 1189.42h17.2M1686.75 1147.3h17.2M1705.18 1213.42h17.2M1705.18 1174.45h17.2M1723.62 1233.9h17.2M1723.62 1198.23h17.2M1742.06 1258.34h17.2M1742.06 1223.33h17.2M1760.5 1280.54h17.2M1760.5 1249.13h17.2M1778.94 1302.74h17.2M1778.94 1274.93h17.2M1797.38 1322.41h17.2M1797.38 1297h17.2M1815.81 1339.05h17.2M1815.81 1316.44h17.2M1834.25 1350.11h17.2M1834.25 1330.33h17.2M1852.69 1360.69h17.2M1852.69 1343.59h17.2M1871.13 1371.75h17.2M1871.13 1357.2h17.2M1889.57 1375.84h17.2M1889.57 1363.57h17.2" stroke="#8c564b" stroke-width="4.8" fill="none"/>
<path d="M872.61 1359.19h17.2M872.61 1340.52h17.2M891.05 1355.49h17.2M891.05 1333.65h17.2M909.49 1340.52h17.2M909.49 1314.8h17.2M927.93 1323.43h17.2M927.93 1294.37h17.2M946.37 1315.51h17.2M946.37 1282.92h17.2M964.8 1283.45h17.2M964.8 1246.29h17.2M983.24 1267.6h17.2M983.24 1227.09h17.2M1001.68 1255.27h17.2M1001.68 1212.29h17.2M1020.12 1228.32h17.2M1020.12 1181.65h17.2M1038.56 1207.5h17.2M1038.56 1158.54h17.2M1056.99 1200.46h17.2M1056.99 1147.97h17.2M1075.43 1168.4h17.2M1075.43 1112.88h17.2M1093.87 1138.42h17.2M1093.87 1079.42h17.2M1112.31 1126.8h17.2M1112.31 1065.33h17.2M1130.75 1112.36h17.2M1130.75 1047.71h17.2M1149.18 1100.91h17.2M1149.18 1033.45h17.2M1167.62 1090.34h17.2M1167.62 1021.12h17.2M1186.06 1068.32h17.2M1186.06 997.52h17.2M1204.5 1063.39h17.2M1204.5 991.35h17.2M1222.94 1070.08h17.2M1222.94 996.99h17.2M1241.37 1069.56h17.2M1241.37 996.46h17.2M1259.81 1075.02h17.2M1259.81 1003.15h17.2M1278.25 1069.2h17.2M1278.25 998.4h17.2M1296.69 1073.25h17.2M1296.69 1004.39h17.2M1315.13 1088.58h17.2M1315.13 1020.77h17.2M1333.57 1070.96h17.2M1333.57 1004.39h17.2M1352 1077.13h17.2M1352 1011.43h17.2M1370.44 1076.25h17.2M1370.44 1010.55h17.2M1388.88 1070.44h17.2M1388.88 1003.68h17.2M1407.32 1089.46h17.2M1407.32 1021.29h17.2M1425.76 1079.77h17.2M1425.76 1010.55h17.2M1444.19 1079.77h17.2M1444.19 1009.85h17.2M1462.63 1076.25h17.2M1462.63 1004.03h17.2M1481.07 1072.2h17.2M1481.07 1000.16h17.2M1499.51 1066.56h17.2M1499.51 993.47h17.2M1517.95 1062.69h17.2M1517.95 991.35h17.2M1536.38 1069.56h17.2M1536.38 998.4h17.2M1554.82 1073.25h17.2M1554.82 1003.15h17.2M1573.26 1089.46h17.2M1573.26 1022.18h17.2M1591.7 1104.78h17.2M1591.7 1040.67h17.2M1610.14 1109.71h17.2M1610.14 1051.59h17.2M1628.57 1139.37h17.2M1628.57 1080.65h17.2M1647.01 1159.15h17.2M1647.01 1103.77h17.2M1665.45 1182.59h17.2M1665.45 1129.75h17.2M1683.89 1192.72h17.2M1683.89 1143.73h17.2M1702.33 1221.89h17.2M1702.33 1174.23h17.2M1720.77 1243.8h17.2M1720.77 1200.21h17.2M1739.2 1262.3h17.2M1739.2 1222.67h17.2M1757.64 1280.79h17.2M1757.64 1243.8h17.2M1776.08 1304.77h17.2M1776.08 1271.85h17.2M1794.52 1324.22h17.2M1794.52 1295.26h17.2M1812.96 1339.93h17.2M1812.96 1314.45h17.2M1831.39 1350.29h17.2M1831.39 1328.41h17.2M1849.83 1362.85h17.2M1849.83 1344.29h17.2" stroke="#e377c2" stroke-width="4.8" fill="none"/>
<polyline points="387.26,1338.88 392.12,1336.19 396.98,1333.4 401.84,1330.48 406.7,1327.44 411.56,1324.27 416.42,1320.97 421.29,1317.53 426.15,1313.95 431.01,1310.23 435.87,1306.36 440.73,1302.34 445.59,1298.18 450.45,1293.86 455.32,1289.38 460.18,1284.75 465.04,1279.96 469.9,1275.02 474.76,1269.91 479.62,1264.64 484.48,1259.21 489.35,1253.62 494.21,1247.87 499.07,1241.96 503.93,1235.89 508.79,1229.65 513.65,1223.26 518.51,1216.71 523.37,1210 528.24,1203.14 533.1,1196.12 537.96,1188.95 542.82,1181.63 547.68,1174.16 552.54,1166.55 557.4,1158.79 562.27,1150.9 567.13,1142.87 571.99,1134.7 576.85,1126.41 581.71,1117.99 586.57,1109.46 591.43,1100.8 596.3,1092.04 601.16,1083.18 606.02,1074.22 610.88,1065.17 615.74,1056.04 620.6,1046.83 625.46,1037.55 630.32,1028.21 635.19,1018.81 640.05,1009.36 644.91,999.87 649.77,990.35 654.63,980.79 659.49,971.21 664.35,961.61 669.22,951.99 674.08,942.36 678.94,932.72 683.8,923.08 688.66,913.43 693.52,903.79 698.38,894.15 703.25,884.53 708.11,874.92 712.97,865.34 717.83,855.77 722.69,846.23 727.55,836.72 732.41,827.25 737.28,817.81 742.14,808.41 747,799.05 751.86,789.73 756.72,780.46 761.58,771.24 766.44,762.07 771.3,752.96 776.17,743.9 781.03,734.9 785.89,725.97 790.75,717.13 795.61,708.37 800.47,699.7 805.33,691.14 810.2,682.69 815.06,674.35 819.92,666.14 824.78,658.07 829.64,650.13 834.5,642.33 839.36,634.68 844.23,627.19 849.09,619.85 853.95,612.69 858.81,605.68 863.67,598.85 868.53,592.18 873.39,585.68 878.25,579.34 883.12,573.18 887.98,567.19 892.84,561.38 897.7,555.75 902.56,550.29 907.42,545.03 912.28,539.95 917.15,535.07 922.01,530.39 926.87,525.91 931.73,521.65 936.59,517.61 941.45,513.81 946.31,510.24 951.18,506.93 956.04,503.87 960.9,501.08 965.76,498.58 970.62,496.37 975.48,494.47 980.34,492.89 985.21,491.64 990.07,490.72 994.93,490.16 999.79,489.97 1004.65,490.14 1009.51,490.69 1014.37,491.63 1019.23,492.95 1024.1,494.64 1028.96,496.71 1033.82,499.13 1038.68,501.88 1043.54,504.95 1048.4,508.29 1053.26,511.87 1058.13,515.64 1062.99,519.55 1067.85,523.55 1072.71,527.57 1077.57,531.56 1082.43,535.45 1087.29,539.17 1092.16,542.65 1097.02,545.85 1101.88,548.69 1106.74,551.14 1111.6,553.13 1116.46,554.65 1121.32,555.64 1126.18,556.11 1131.05,556.02 1135.91,555.38 1140.77,554.21 1145.63,552.53 1150.49,550.39 1155.35,547.81 1160.21,544.84 1165.08,541.54 1169.94,537.97 1174.8,534.19 1179.66,530.27 1184.52,526.26 1189.38,522.24 1194.24,518.26 1199.11,514.39 1203.97,510.68 1208.83,507.17 1213.69,503.92 1218.55,500.95 1223.41,498.3 1228.27,495.99 1233.14,494.05 1238,492.47 1242.86,491.28 1247.72,490.47 1252.58,490.04 1257.44,489.99 1262.3,490.31 1267.16,490.98 1272.03,492.01 1276.89,493.37 1281.75,495.06 1286.61,497.06 1291.47,499.37 1296.33,501.96 1301.19,504.84 1306.06,507.98 1310.92,511.38 1315.78,515.02 1320.64,518.91 1325.5,523.02 1330.36,527.35 1335.22,531.89 1340.09,536.64 1344.95,541.58 1349.81,546.72 1354.67,552.05 1359.53,557.56 1364.39,563.26 1369.25,569.13 1374.11,575.17 1378.98,581.39 1383.84,587.78 1388.7,594.34 1393.56,601.06 1398.42,607.95 1403.28,615.01 1408.14,622.23 1413.01,629.61 1417.87,637.16 1422.73,644.86 1427.59,652.7 1432.45,660.69 1437.31,668.81 1442.17,677.06 1447.04,685.43 1451.9,693.92 1456.76,702.52 1461.62,711.21 1466.48,720 1471.34,728.88 1476.2,737.83 1481.06,746.85 1485.93,755.93 1490.79,765.06 1495.65,774.25 1500.51,783.48 1505.37,792.77 1510.23,802.1 1515.09,811.47 1519.96,820.88 1524.82,830.34 1529.68,839.82 1534.54,849.34 1539.4,858.89 1544.26,868.46 1549.12,878.06 1553.99,887.67 1558.85,897.3 1563.71,906.93 1568.57,916.58 1573.43,926.49 1578.29,936.45 1583.15,946.42 1588.02,956.39 1592.88,966.35 1597.74,976.31 1602.6,986.25 1607.46,996.18 1612.32,1006.2 1617.18,1016.2 1622.04,1025.99 1626.91,1035.4 1631.77,1044.62 1636.63,1053.69 1641.49,1062.64 1646.35,1071.51 1651.21,1080.31 1656.07,1089.05 1660.94,1097.69 1665.8,1106.23 1670.66,1114.66 1675.52,1122.98 1680.38,1131.19 1685.24,1139.27 1690.1,1147.21 1694.97,1155.01 1699.83,1162.69 1704.69,1170.26 1709.55,1177.72 1714.41,1185.08 1719.27,1192.35 1724.13,1199.47 1728.99,1206.43 1733.86,1213.25 1738.72,1219.9 1743.58,1226.4 1748.44,1232.77 1753.3,1239.02 1758.16,1245.13 1763.02,1251.08 1767.89,1256.85 1772.75,1262.4 1777.61,1267.78 1782.47,1272.97 1787.33,1277.91 1792.19,1282.66 1797.05,1287.27 1801.92,1291.75 1806.78,1296.06 1811.64,1300.23 1816.5,1304.23 1821.36,1308.06 1826.22,1311.7 1831.08,1315.21 1835.95,1318.67 1840.81,1322.06 1845.67,1325.32 1850.53,1328.44 1855.39,1331.45 1860.25,1334.32 1865.11,1337.08 1869.97,1339.73 1874.84,1342.26 1879.7,1344.69 1884.56,1347.02 1889.42,1349.25 1894.28,1351.37 1899.14,1353.35 1904,1355.19 1908.87,1356.93 1913.73,1358.62 1918.59,1360.29 1923.45,1361.95 1928.31,1363.53 1933.17,1365.04 1938.03,1366.49 1942.9,1367.86 1947.76,1369.18 1952.62,1370.43 1957.48,1371.62 1962.34,1372.76 1967.2,1373.86 1972.06,1374.91 1976.92,1375.91 1981.79,1376.88 1986.65,1377.79 1991.51,1378.67 1996.37,1379.5 2001.23,1380.28 2006.09,1380.96 2010.95,1381.57 2015.82,1382.14 2020.68,1382.68 2025.54,1383.18 2030.4,1383.64 2035.26,1384.07 2040.12,1384.47 2044.98,1384.84 2049.85,1385.17 2054.71,1385.47 2059.57,1385.75 2064.43,1386 2069.29,1386.24 2074.15,1386.45 2079.01,1386.65 2083.88,1386.83 2088.74,1387 2093.6,1387.15 2098.46,1387.29 2103.32,1387.42 2108.18,1387.54 2113.04,1387.65 2117.9,1387.75 2122.77,1387.85 2127.63,1387.93 2132.49,1388.01 2137.35,1388.09 2142.21,1388.16 2147.07,1388.24 2151.93,1388.3 2156.8,1388.36 2161.66,1388.42 2166.52,1388.47 2171.38,1388.52 2176.24,1388.56 2181.1,1388.6 2185.96,1388.64 2190.83,1388.67 2195.69,1388.7 2200.55,1388.73 2205.41,1388.75 2210.27,1388.78 2215.13,1388.8 2219.99,1388.82 2224.85,1388.83 2229.72,1388.85 2234.58,1388.86 2239.44,1388.88 2244.3,1388.89 2249.16,1388.9 2254.02,1388.91 2258.88,1388.92 2263.75,1388.93 2268.61,1388.93 2273.47,1388.94 2278.33,1388.95 2283.19,1388.95 2288.05,1388.96 2292.91,1388.96 2297.78,1388.97 2302.64,1388.97 2307.5,1388.97 2312.36,1388.98 2317.22,1388.98 2322.08,1388.98 2326.94,1388.98" fill="none" stroke="#808080" stroke-width="6.4" stroke-linejoin="round" stroke-linecap="butt" stroke-dasharray="23.1 10" stroke-dashoffset="-13"/>
<polyline points="387.26,1188.7 392.12,1181.52 396.98,1174.19 401.84,1166.73 406.7,1159.13 411.56,1151.41 416.42,1143.56 421.29,1135.6 426.15,1127.52 431.01,1119.33 435.87,1111.03 440.73,1102.64 445.59,1094.14 450.45,1085.57 455.32,1076.9 460.18,1068.16 465.04,1059.35 469.9,1050.47 474.76,1041.53 479.62,1032.54 484.48,1023.5 489.35,1014.42 494.21,1005.3 499.07,996.15 503.93,986.98 508.79,977.79 513.65,968.58 518.51,959.37 523.37,950.16 528.24,940.94 533.1,931.74 537.96,922.55 542.82,913.38 547.68,904.23 552.54,895.1 557.4,886 562.27,876.94 567.13,867.91 571.99,858.92 576.85,849.97 581.71,841.07 586.57,832.2 591.43,823.39 596.3,814.61 601.16,805.89 606.02,797.22 610.88,788.59 615.74,780.01 620.6,771.48 625.46,763 630.32,754.56 635.19,746.17 640.05,737.83 644.91,729.53 649.77,721.28 654.63,713.06 659.49,704.89 664.35,696.75 669.22,688.66 674.08,680.59 678.94,672.57 683.8,664.57 688.66,656.61 693.52,648.67 698.38,640.77 703.25,632.91 708.11,625.07 712.97,617.28 717.83,609.52 722.69,601.8 727.55,594.11 732.41,586.47 737.28,578.87 742.14,571.31 747,563.8 751.86,556.34 756.72,548.93 761.58,541.58 766.44,534.28 771.3,527.04 776.17,519.87 781.03,512.77 785.89,505.74 790.75,498.79 795.61,491.93 800.47,485.15 805.33,478.46 810.2,471.88 815.06,465.4 819.92,459.04 824.78,452.8 829.64,446.67 834.5,440.67 839.36,434.78 844.23,429.02 849.09,423.39 853.95,417.87 858.81,412.46 863.67,407.17 868.53,401.98 873.39,396.9 878.25,391.92 883.12,387.04 887.98,382.27 892.84,377.63 897.7,373.13 902.56,368.81 907.42,364.67 912.28,360.74 917.15,357.05 922.01,353.62 926.87,350.48 931.73,347.66 936.59,345.19 941.45,343.1 946.31,341.41 951.18,340.15 956.04,339.34 960.9,338.99 965.76,339.1 970.62,339.68 975.48,340.7 980.34,342.14 985.21,343.99 990.07,346.22 994.93,348.78 999.79,351.64 1004.65,354.76 1009.51,358.08 1014.37,361.53 1019.23,365.06 1024.1,368.61 1028.96,372.1 1033.82,375.46 1038.68,378.62 1043.54,381.52 1048.4,384.1 1053.26,386.29 1058.13,388.05 1062.99,389.34 1067.85,390.12 1072.71,390.37 1077.57,390.1 1082.43,389.29 1087.29,387.98 1092.16,386.2 1097.02,383.99 1101.88,381.4 1106.74,378.48 1111.6,375.31 1116.46,371.94 1121.32,368.45 1126.18,364.9 1131.05,361.37 1135.91,357.92 1140.77,354.62 1145.63,351.51 1150.49,348.66 1155.35,346.11 1160.21,343.9 1165.08,342.07 1169.94,340.64 1174.8,339.64 1179.66,339.09 1184.52,338.99 1189.38,339.36 1194.24,340.2 1199.11,341.48 1203.97,343.19 1208.83,345.3 1213.69,347.78 1218.55,350.61 1223.41,353.76 1228.27,357.21 1233.14,360.91 1238,364.85 1242.86,369 1247.72,373.33 1252.58,377.84 1257.44,382.49 1262.3,387.26 1267.16,392.15 1272.03,397.13 1276.89,402.22 1281.75,407.41 1286.61,412.7 1291.47,418.11 1296.33,423.64 1301.19,429.28 1306.06,435.05 1310.92,440.94 1315.78,446.95 1320.64,453.08 1325.5,459.33 1330.36,465.69 1335.22,472.17 1340.09,478.76 1344.95,485.45 1349.81,492.23 1354.67,499.1 1359.53,506.06 1364.39,513.09 1369.25,520.2 1374.11,527.37 1378.98,534.61 1383.84,541.91 1388.7,549.26 1393.56,556.68 1398.42,564.14 1403.28,571.65 1408.14,579.21 1413.01,586.81 1417.87,594.46 1422.73,602.14 1427.59,609.87 1432.45,617.63 1437.31,625.43 1442.17,633.26 1447.04,641.13 1451.9,649.03 1456.76,656.96 1461.62,664.93 1466.48,672.93 1471.34,680.96 1476.2,689.02 1481.06,697.12 1485.93,705.26 1490.79,713.43 1495.65,721.65 1500.51,729.9 1505.37,738.2 1510.23,746.55 1515.09,754.94 1519.96,763.38 1524.82,771.86 1529.68,780.4 1534.54,788.98 1539.4,797.61 1544.26,806.28 1549.12,815.01 1553.99,823.78 1558.85,832.6 1563.71,841.47 1568.57,850.38 1573.43,859.33 1578.29,868.32 1583.15,877.35 1588.02,886.41 1592.88,895.51 1597.74,904.64 1602.6,913.79 1607.46,922.96 1612.32,932.16 1617.18,941.36 1622.04,950.57 1626.91,959.78 1631.77,969 1636.63,978.2 1641.49,987.39 1646.35,996.56 1651.21,1005.71 1656.07,1014.83 1660.94,1023.91 1665.8,1032.95 1670.66,1041.94 1675.52,1050.87 1680.38,1059.75 1685.24,1068.56 1690.1,1077.29 1694.97,1085.95 1699.83,1094.53 1704.69,1103.02 1709.55,1111.41 1714.41,1119.7 1719.27,1127.88 1724.13,1135.96 1728.99,1143.92 1733.86,1151.76 1738.72,1159.48 1743.58,1167.06 1748.44,1174.52 1753.3,1181.84 1758.16,1189.02 1763.02,1196.06 1767.89,1202.96 1772.75,1209.71 1777.61,1216.31 1782.47,1222.75 1787.33,1229.05 1792.19,1235.19 1797.05,1241.17 1801.92,1247 1806.78,1252.67 1811.64,1258.06 1816.5,1263.09 1821.36,1267.91 1826.22,1272.63 1831.08,1277.38 1835.95,1282.12 1840.81,1286.7 1845.67,1291.14 1850.53,1295.57 1855.39,1300.01 1860.25,1304.24 1865.11,1308.26 1869.97,1312.11 1874.84,1315.81 1879.7,1319.34 1884.56,1322.68 1889.42,1325.85 1894.28,1328.89 1899.14,1331.81 1904,1334.6 1908.87,1337.28 1913.73,1339.84 1918.59,1342.29 1923.45,1344.64 1928.31,1346.88 1933.17,1349.02 1938.03,1351.06 1942.9,1353.01 1947.76,1354.86 1952.62,1356.63 1957.48,1358.31 1962.34,1359.92 1967.2,1361.44 1972.06,1362.89 1976.92,1364.27 1981.79,1365.58 1986.65,1366.82 1991.51,1368 1996.37,1369.12 2001.23,1370.18 2006.09,1371.19 2010.95,1372.14 2015.82,1373.05 2020.68,1373.9 2025.54,1374.72 2030.4,1375.49 2035.26,1376.21 2040.12,1376.9 2044.98,1377.56 2049.85,1378.18 2054.71,1378.76 2059.57,1379.32 2064.43,1379.84 2069.29,1380.34 2074.15,1380.81 2079.01,1381.26 2083.88,1381.68 2088.74,1382.09 2093.6,1382.47 2098.46,1382.84 2103.32,1383.18 2108.18,1383.52 2113.04,1383.83 2117.9,1384.12 2122.77,1384.4 2127.63,1384.67 2132.49,1384.92 2137.35,1385.15 2142.21,1385.37 2147.07,1385.58 2151.93,1385.77 2156.8,1385.95 2161.66,1386.12 2166.52,1386.28 2171.38,1386.42 2176.24,1386.55 2181.1,1386.67 2185.96,1386.78 2190.83,1386.9 2195.69,1387.01 2200.55,1387.12 2205.41,1387.22 2210.27,1387.32 2215.13,1387.41 2219.99,1387.49 2224.85,1387.57 2229.72,1387.65 2234.58,1387.72 2239.44,1387.79 2244.3,1387.85 2249.16,1387.92 2254.02,1387.97 2258.88,1388.03 2263.75,1388.08 2268.61,1388.13 2273.47,1388.18 2278.33,1388.22 2283.19,1388.26 2288.05,1388.3 2292.91,1388.34 2297.78,1388.38 2302.64,1388.41 2307.5,1388.44 2312.36,1388.47 2317.22,1388.5 2322.08,1388.53 2326.94,1388.56" fill="none" stroke="#daa520" stroke-width="6.4" stroke-linejoin="round" stroke-linecap="butt" stroke-dasharray="40 10 6.25 10" stroke-dashoffset="22"/>
<g fill="#008000"><circle cx="1095.33" cy="1387.7" r="4.8"/><circle cx="1113.76" cy="1387.08" r="4.8"/><circle cx="1132.2" cy="1386.25" r="4.8"/><circle cx="1150.64" cy="1385.1" r="4.8"/><circle cx="1169.08" cy="1383.54" r="4.8"/><circle cx="1187.52" cy="1381.46" r="4.8"/><circle cx="1205.95" cy="1378.86" r="4.8"/><circle cx="1224.39" cy="1375.49" r="4.8"/><circle cx="1242.83" cy="1371.91" r="4.8"/><circle cx="1261.27" cy="1366.75" r="4.8"/><circle cx="1279.71" cy="1358.14" r="4.8"/><circle cx="1298.14" cy="1348.67" r="4.8"/><circle cx="1316.58" cy="1337.49" r="4.8"/><circle cx="1335.02" cy="1324.58" r="4.8"/><circle cx="1353.46" cy="1308.74" r="4.8"/><circle cx="1371.9" cy="1291.02" r="4.8"/><circle cx="1390.33" cy="1274.66" r="4.8"/><circle cx="1408.77" cy="1260.9" r="4.8"/><circle cx="1427.21" cy="1246.61" r="4.8"/><circle cx="1445.65" cy="1234.48" r="4.8"/><circle cx="1464.09" cy="1226.49" r="4.8"/><circle cx="1482.53" cy="1220.33" r="4.8"/><circle cx="1500.96" cy="1217.16" r="4.8"/><circle cx="1519.4" cy="1214.16" r="4.8"/><circle cx="1537.84" cy="1212.4" r="4.8"/><circle cx="1556.28" cy="1211.87" r="4.8"/><circle cx="1574.72" cy="1211.87" r="4.8"/><circle cx="1593.15" cy="1212.22" r="4.8"/><circle cx="1611.59" cy="1213.26" r="4.8"/><circle cx="1630.03" cy="1215.13" r="4.8"/><circle cx="1648.47" cy="1217.27" r="4.8"/><circle cx="1666.91" cy="1218.04" r="4.8"/><circle cx="1685.34" cy="1219.91" r="4.8"/><circle cx="1703.78" cy="1228.94" r="4.8"/><circle cx="1722.22" cy="1238.52" r="4.8"/><circle cx="1740.66" cy="1249.09" r="4.8"/><circle cx="1759.1" cy="1262.3" r="4.8"/><circle cx="1777.53" cy="1277.48" r="4.8"/><circle cx="1795.97" cy="1293.33" r="4.8"/><circle cx="1814.41" cy="1310.44" r="4.8"/><circle cx="1832.85" cy="1325.62" r="4.8"/><circle cx="1851.29" cy="1338.91" r="4.8"/><circle cx="1869.73" cy="1348.02" r="4.8"/><circle cx="1888.16" cy="1356.21" r="4.8"/><circle cx="1906.6" cy="1364.11" r="4.8"/><circle cx="1925.04" cy="1370.03" r="4.8"/><circle cx="1943.48" cy="1375.46" r="4.8"/><circle cx="1961.92" cy="1379.38" r="4.8"/><circle cx="1980.35" cy="1382.09" r="4.8"/><circle cx="1998.79" cy="1384.01" r="4.8"/><circle cx="2017.23" cy="1385.41" r="4.8"/><circle cx="2035.67" cy="1386.4" r="4.8"/><circle cx="2054.11" cy="1387.13" r="4.8"/><circle cx="2072.54" cy="1387.65" r="4.8"/></g>
<g fill="#9467bd"><circle cx="988.61" cy="1383.67" r="4.8"/><circle cx="1007.05" cy="1380.33" r="4.8"/><circle cx="1025.49" cy="1377.16" r="4.8"/><circle cx="1043.93" cy="1373.63" r="4.8"/><circle cx="1062.37" cy="1364.93" r="4.8"/><circle cx="1080.81" cy="1356.58" r="4.8"/><circle cx="1099.24" cy="1346.04" r="4.8"/><circle cx="1117.68" cy="1334.55" r="4.8"/><circle cx="1136.12" cy="1318.44" r="4.8"/><circle cx="1154.56" cy="1298.33" r="4.8"/><circle cx="1173" cy="1278.92" r="4.8"/><circle cx="1191.43" cy="1263.51" r="4.8"/><circle cx="1209.87" cy="1245.41" r="4.8"/><circle cx="1228.31" cy="1226.51" r="4.8"/><circle cx="1246.75" cy="1210.12" r="4.8"/><circle cx="1265.19" cy="1194.97" r="4.8"/><circle cx="1283.62" cy="1182.7" r="4.8"/><circle cx="1302.06" cy="1171.89" r="4.8"/><circle cx="1320.5" cy="1163.43" r="4.8"/><circle cx="1338.94" cy="1156.39" r="4.8"/><circle cx="1357.38" cy="1153.75" r="4.8"/><circle cx="1375.81" cy="1152.87" r="4.8"/><circle cx="1394.25" cy="1153.75" r="4.8"/><circle cx="1412.69" cy="1154.63" r="4.8"/><circle cx="1431.13" cy="1155.51" r="4.8"/><circle cx="1449.57" cy="1157.27" r="4.8"/><circle cx="1468.01" cy="1157.62" r="4.8"/><circle cx="1486.44" cy="1158.5" r="4.8"/><circle cx="1504.88" cy="1158.5" r="4.8"/><circle cx="1523.32" cy="1156.92" r="4.8"/><circle cx="1541.76" cy="1155.86" r="4.8"/><circle cx="1560.2" cy="1154.63" r="4.8"/><circle cx="1578.63" cy="1154.63" r="4.8"/><circle cx="1597.07" cy="1156.39" r="4.8"/><circle cx="1615.51" cy="1160.42" r="4.8"/><circle cx="1633.95" cy="1165.35" r="4.8"/><circle cx="1652.39" cy="1174.73" r="4.8"/><circle cx="1670.82" cy="1183.1" r="4.8"/><circle cx="1689.26" cy="1194.26" r="4.8"/><circle cx="1707.7" cy="1208.8" r="4.8"/><circle cx="1726.14" cy="1224.65" r="4.8"/><circle cx="1744.58" cy="1241.16" r="4.8"/><circle cx="1763.01" cy="1251.73" r="4.8"/><circle cx="1781.45" cy="1268.72" r="4.8"/><circle cx="1799.89" cy="1289.06" r="4.8"/><circle cx="1818.33" cy="1308.52" r="4.8"/><circle cx="1836.77" cy="1331.9" r="4.8"/><circle cx="1855.21" cy="1344.67" r="4.8"/><circle cx="1873.64" cy="1355.7" r="4.8"/><circle cx="1892.08" cy="1364.4" r="4.8"/><circle cx="1910.52" cy="1370.98" r="4.8"/><circle cx="1928.96" cy="1375.53" r="4.8"/><circle cx="1947.4" cy="1378.92" r="4.8"/><circle cx="1965.83" cy="1381.57" r="4.8"/></g>
<g fill="#8c564b"><circle cx="920.95" cy="1370.11" r="4.8"/><circle cx="939.38" cy="1361.66" r="4.8"/><circle cx="957.82" cy="1352.5" r="4.8"/><circle cx="976.26" cy="1342.28" r="4.8"/><circle cx="994.7" cy="1330.13" r="4.8"/><circle cx="1013.14" cy="1309.34" r="4.8"/><circle cx="1031.58" cy="1290.85" r="4.8"/><circle cx="1050.01" cy="1270.59" r="4.8"/><circle cx="1068.45" cy="1250.34" r="4.8"/><circle cx="1086.89" cy="1225.56" r="4.8"/><circle cx="1105.33" cy="1204.86" r="4.8"/><circle cx="1123.77" cy="1183.02" r="4.8"/><circle cx="1142.2" cy="1163.29" r="4.8"/><circle cx="1160.64" cy="1145.06" r="4.8"/><circle cx="1179.08" cy="1130.44" r="4.8"/><circle cx="1197.52" cy="1115.35" r="4.8"/><circle cx="1215.96" cy="1103.55" r="4.8"/><circle cx="1234.39" cy="1090.87" r="4.8"/><circle cx="1252.83" cy="1085.06" r="4.8"/><circle cx="1271.27" cy="1082.41" r="4.8"/><circle cx="1289.71" cy="1074.49" r="4.8"/><circle cx="1308.15" cy="1077.66" r="4.8"/><circle cx="1326.58" cy="1077.66" r="4.8"/><circle cx="1345.02" cy="1080.65" r="4.8"/><circle cx="1363.46" cy="1080.65" r="4.8"/><circle cx="1381.9" cy="1078.36" r="4.8"/><circle cx="1400.34" cy="1074.13" r="4.8"/><circle cx="1418.78" cy="1087.17" r="4.8"/><circle cx="1437.21" cy="1078.01" r="4.8"/><circle cx="1455.65" cy="1086.46" r="4.8"/><circle cx="1474.09" cy="1077.48" r="4.8"/><circle cx="1492.53" cy="1079.77" r="4.8"/><circle cx="1510.97" cy="1080.3" r="4.8"/><circle cx="1529.4" cy="1078.36" r="4.8"/><circle cx="1547.84" cy="1079.42" r="4.8"/><circle cx="1566.28" cy="1081.88" r="4.8"/><circle cx="1584.72" cy="1092.98" r="4.8"/><circle cx="1603.16" cy="1100.25" r="4.8"/><circle cx="1621.59" cy="1111.33" r="4.8"/><circle cx="1640.03" cy="1126.67" r="4.8"/><circle cx="1658.47" cy="1142.19" r="4.8"/><circle cx="1676.91" cy="1159.41" r="4.8"/><circle cx="1695.35" cy="1174.23" r="4.8"/><circle cx="1713.78" cy="1197.57" r="4.8"/><circle cx="1732.22" cy="1221.35" r="4.8"/><circle cx="1750.66" cy="1243.8" r="4.8"/><circle cx="1769.1" cy="1267.25" r="4.8"/><circle cx="1787.54" cy="1290.7" r="4.8"/><circle cx="1805.98" cy="1310.19" r="4.8"/><circle cx="1824.41" cy="1327.08" r="4.8"/><circle cx="1842.85" cy="1339.87" r="4.8"/><circle cx="1861.29" cy="1351.23" r="4.8"/><circle cx="1879.73" cy="1361.74" r="4.8"/><circle cx="1898.17" cy="1367.78" r="4.8"/></g>
<g fill="#e377c2"><circle cx="881.21" cy="1349.85" r="4.8"/><circle cx="899.65" cy="1342.28" r="4.8"/><circle cx="918.09" cy="1327.49" r="4.8"/><circle cx="936.53" cy="1309.87" r="4.8"/><circle cx="954.97" cy="1296.66" r="4.8"/><circle cx="973.4" cy="1269.36" r="4.8"/><circle cx="991.84" cy="1249.46" r="4.8"/><circle cx="1010.28" cy="1229.73" r="4.8"/><circle cx="1028.72" cy="1202.43" r="4.8"/><circle cx="1047.16" cy="1178.97" r="4.8"/><circle cx="1065.59" cy="1162.41" r="4.8"/><circle cx="1084.03" cy="1134.06" r="4.8"/><circle cx="1102.47" cy="1108.3" r="4.8"/><circle cx="1120.91" cy="1092.98" r="4.8"/><circle cx="1139.35" cy="1077.13" r="4.8"/><circle cx="1157.78" cy="1065.15" r="4.8"/><circle cx="1176.22" cy="1054.58" r="4.8"/><circle cx="1194.66" cy="1039.61" r="4.8"/><circle cx="1213.1" cy="1033.98" r="4.8"/><circle cx="1231.54" cy="1035.21" r="4.8"/><circle cx="1249.97" cy="1034.33" r="4.8"/><circle cx="1268.41" cy="1036.97" r="4.8"/><circle cx="1286.85" cy="1035.39" r="4.8"/><circle cx="1305.29" cy="1038.73" r="4.8"/><circle cx="1323.73" cy="1046.31" r="4.8"/><circle cx="1342.17" cy="1038.38" r="4.8"/><circle cx="1360.6" cy="1042.25" r="4.8"/><circle cx="1379.04" cy="1042.25" r="4.8"/><circle cx="1397.48" cy="1038.03" r="4.8"/><circle cx="1415.92" cy="1046.83" r="4.8"/><circle cx="1434.36" cy="1041.02" r="4.8"/><circle cx="1452.79" cy="1040.14" r="4.8"/><circle cx="1471.23" cy="1037.5" r="4.8"/><circle cx="1489.67" cy="1036.09" r="4.8"/><circle cx="1508.11" cy="1033.1" r="4.8"/><circle cx="1526.55" cy="1033.1" r="4.8"/><circle cx="1544.98" cy="1038.73" r="4.8"/><circle cx="1563.42" cy="1045.42" r="4.8"/><circle cx="1581.86" cy="1058.99" r="4.8"/><circle cx="1600.3" cy="1073.25" r="4.8"/><circle cx="1618.74" cy="1082.94" r="4.8"/><circle cx="1637.17" cy="1108.44" r="4.8"/><circle cx="1655.61" cy="1128.72" r="4.8"/><circle cx="1674.05" cy="1153.27" r="4.8"/><circle cx="1692.49" cy="1171.25" r="4.8"/><circle cx="1710.93" cy="1198.95" r="4.8"/><circle cx="1729.37" cy="1223.33" r="4.8"/><circle cx="1747.8" cy="1245.79" r="4.8"/><circle cx="1766.24" cy="1267.58" r="4.8"/><circle cx="1784.68" cy="1291.05" r="4.8"/><circle cx="1803.12" cy="1310.44" r="4.8"/><circle cx="1821.56" cy="1327.01" r="4.8"/><circle cx="1839.99" cy="1339.52" r="4.8"/><circle cx="1858.43" cy="1351.79" r="4.8"/></g>
<g fill="#d62728"><circle cx="678.39" cy="927.68" r="8.8"/><circle cx="701.44" cy="882.71" r="8.8"/><circle cx="724.49" cy="845.19" r="8.8"/><circle cx="747.54" cy="802.41" r="8.8"/><circle cx="770.58" cy="760.67" r="8.8"/><circle cx="793.63" cy="711.28" r="8.8"/><circle cx="816.68" cy="667.31" r="8.8"/><circle cx="839.73" cy="635.81" r="8.8"/><circle cx="862.77" cy="606.7" r="8.8"/><circle cx="885.82" cy="568.76" r="8.8"/><circle cx="908.87" cy="543.29" r="8.8"/><circle cx="931.92" cy="518.59" r="8.8"/><circle cx="954.97" cy="500.14" r="8.8"/><circle cx="978.01" cy="486.63" r="8.8"/><circle cx="1001.06" cy="484.81" r="8.8"/><circle cx="1024.11" cy="505.86" r="8.8"/><circle cx="1047.16" cy="518.59" r="8.8"/><circle cx="1070.2" cy="526.91" r="8.8"/><circle cx="1093.25" cy="543.29" r="8.8"/><circle cx="1116.3" cy="549.52" r="8.8"/><circle cx="1139.35" cy="549.52" r="8.8"/><circle cx="1162.39" cy="543.29" r="8.8"/><circle cx="1185.44" cy="526.91" r="8.8"/><circle cx="1208.49" cy="518.59" r="8.8"/><circle cx="1231.54" cy="505.86" r="8.8"/><circle cx="1254.58" cy="484.81" r="8.8"/><circle cx="1277.63" cy="486.63" r="8.8"/><circle cx="1300.68" cy="500.14" r="8.8"/><circle cx="1323.73" cy="518.59" r="8.8"/><circle cx="1346.77" cy="543.29" r="8.8"/><circle cx="1369.82" cy="568.76" r="8.8"/><circle cx="1392.87" cy="606.7" r="8.8"/><circle cx="1415.92" cy="635.81" r="8.8"/><circle cx="1438.97" cy="667.31" r="8.8"/><circle cx="1462.01" cy="711.28" r="8.8"/><circle cx="1485.06" cy="760.67" r="8.8"/><circle cx="1508.11" cy="802.41" r="8.8"/><circle cx="1531.16" cy="845.19" r="8.8"/><circle cx="1554.2" cy="882.71" r="8.8"/><circle cx="1577.25" cy="927.68" r="8.8"/><circle cx="1600.3" cy="988.49" r="8.8"/><circle cx="1623.35" cy="1042.29" r="8.8"/></g>
<g fill="#2ca02c"><circle cx="761.46" cy="534.76" r="8.8"/><circle cx="784.5" cy="520.67" r="8.8"/><circle cx="807.55" cy="495.67" r="8.8"/><circle cx="830.6" cy="459.91" r="8.8"/><circle cx="853.65" cy="434.91" r="8.8"/><circle cx="876.7" cy="394.83" r="8.8"/><circle cx="899.74" cy="365.83" r="8.8"/><circle cx="922.79" cy="348.26" r="8.8"/><circle cx="945.84" cy="336.92" r="8.8"/><circle cx="968.89" cy="340.56" r="8.8"/><circle cx="991.93" cy="351.74" r="8.8"/><circle cx="1014.98" cy="364.99" r="8.8"/><circle cx="1038.03" cy="378.25" r="8.8"/><circle cx="1061.08" cy="385.63" r="8.8"/><circle cx="1084.12" cy="385.63" r="8.8"/><circle cx="1107.17" cy="378.25" r="8.8"/><circle cx="1130.22" cy="364.99" r="8.8"/><circle cx="1153.27" cy="351.74" r="8.8"/><circle cx="1176.31" cy="340.56" r="8.8"/><circle cx="1199.36" cy="336.92" r="8.8"/><circle cx="1222.41" cy="348.26" r="8.8"/><circle cx="1245.46" cy="365.83" r="8.8"/><circle cx="1268.5" cy="394.83" r="8.8"/><circle cx="1291.55" cy="434.91" r="8.8"/><circle cx="1314.6" cy="459.91" r="8.8"/><circle cx="1337.65" cy="495.67" r="8.8"/><circle cx="1360.7" cy="520.67" r="8.8"/><circle cx="1383.74" cy="534.76" r="8.8"/><circle cx="1406.79" cy="576.81" r="8.8"/><circle cx="1429.84" cy="622.81" r="8.8"/><circle cx="1452.89" cy="675.94" r="8.8"/><circle cx="1475.93" cy="700.63" r="8.8"/><circle cx="1498.98" cy="723.29" r="8.8"/><circle cx="1522.03" cy="742.89" r="8.8"/></g>
<rect x="1773.8" y="1254.3" width="181.4" height="154.7" fill="#808080" fill-opacity="0.08" stroke="#000" stroke-width="8.6"/>
</g>
<rect x="389.1" y="89.5" width="1936" height="1299.5" fill="none" stroke="#000" stroke-width="4.2"/>
<text x="481.29" y="1469.7" font-size="87.5" text-anchor="middle" textLength="182.66" lengthAdjust="spacing">−15</text>
<text x="942.24" y="1469.7" font-size="87.5" text-anchor="middle" textLength="182.66" lengthAdjust="spacing">−10</text>
<text x="1403.2" y="1469.7" font-size="87.5" text-anchor="middle" textLength="127.99" lengthAdjust="spacing">−5</text>
<text x="1864.15" y="1469.7" font-size="87.5" text-anchor="middle">0</text>
<text x="2325.1" y="1469.7" font-size="87.5" text-anchor="middle">5</text>
<text x="374.3" y="1422.8" font-size="87.5" text-anchor="end">0</text>
<text x="374.3" y="1162.9" font-size="87.5" text-anchor="end" textLength="165.01" lengthAdjust="spacing">500</text>
<text x="374.3" y="903" font-size="87.5" text-anchor="end" textLength="219.68" lengthAdjust="spacing">1000</text>
<text x="374.3" y="643.1" font-size="87.5" text-anchor="end" textLength="219.68" lengthAdjust="spacing">1500</text>
<text x="374.3" y="383.2" font-size="87.5" text-anchor="end" textLength="219.68" lengthAdjust="spacing">2000</text>
<text x="374.3" y="123.3" font-size="87.5" text-anchor="end" textLength="219.68" lengthAdjust="spacing">2500</text>
<text x="1162.3" y="1562.7" font-size="87.5" text-anchor="start" font-style="italic">η</text>
<text x="1233.6" y="1563.7" font-size="87.5" text-anchor="start">−</text>
<text x="1322" y="1562.7" font-size="87.5" text-anchor="start" font-style="italic">y</text>
<text x="1374.3" y="1576.9" font-size="61.25" text-anchor="start" textLength="171.2" lengthAdjust="spacing">beam</text>
<g transform="translate(112.8,916.1) rotate(-90)">
<text x="-4" y="0" font-size="87.5" text-anchor="start">d</text>
<text x="51" y="0" font-size="87.5" text-anchor="start" font-style="italic">N</text>
<text x="114" y="14.2" font-size="61.25" text-anchor="start">ch</text>
<text x="203" y="0" font-size="87.5" text-anchor="start">/</text>
<text x="245" y="0" font-size="87.5" text-anchor="start">d</text>
<text x="299" y="0" font-size="87.5" text-anchor="start" font-style="italic">η</text>
</g>
<rect x="1627.5" y="163.1" width="619.4" height="511.55" fill="#f5f5f5"/>
<path d="M1782.35 674.65v-17.5M1782.35 163.1v17.5M2092.05 674.65v-17.5M2092.05 163.1v17.5M1627.5 576.27h17.5M2246.9 576.27h-17.5M1627.5 477.9h17.5M2246.9 477.9h-17.5M1627.5 379.53h17.5M2246.9 379.53h-17.5M1627.5 182.78h17.5M2246.9 182.78h-17.5" stroke="#000" stroke-width="6.5" fill="none"/>
<path d="M1627.5 674.65v-26M1627.5 163.1v26M1937.2 674.65v-26M1937.2 163.1v26M2246.9 674.65v-26M2246.9 163.1v26M1627.5 674.65h26M2246.9 674.65h-26M1627.5 281.15h26M2246.9 281.15h-26" stroke="#000" stroke-width="8.6" fill="none"/>
<g clip-path="url(#ci)">
<path d="" stroke="#2ca02c" stroke-width="6.3" fill="none"/>
<path d="" stroke="#d62728" stroke-width="6.3" fill="none"/>
<path d="M1584.3 242.57V155.07M1646.24 297.29V217.37M1708.18 349.37V276.55M1770.12 412.95V347.56M1832.06 470.41V411.62M1894 517.29V465.13M1955.94 540.41V495.5M2017.88 563.57V524.89M2079.82 591.41V559.64M2141.76 611.52V584.41M2203.7 633.51V611.52M2265.64 645.68V629M2327.58 654.37V641.28" stroke="#008000" stroke-width="3.8" fill="none"/>
<path d="M1535.52 163.12V26.84M1597.46 189.65V55.07M1659.4 240.49V112.57M1721.34 321.47V199.93M1783.28 399.34V289.37M1845.22 512.54V414.27M1907.16 552.96V469.09M1969.1 589.95V519.54M2031.04 618.01V560.56M2092.98 636.47V589.85M2154.92 647.07V609.97M2216.86 655.39V626.38M2278.8 660.88V638.64" stroke="#9467bd" stroke-width="3" fill="none"/>
<path d="M1555.96 180.07V47.57M1617.9 264.11V145.22M1679.84 348.15V242.87M1741.78 422.59V326.42M1803.72 485.6V400M1865.66 527.46V452.58M1927.6 567.49V502.76M1989.54 609.37V554.28M2051.48 624.83V578.39" stroke="#8c564b" stroke-width="3" fill="none"/>
<path d="M1546.36 195.07V45.07M1608.3 265.07V125.07M1670.24 355.81V231.24M1732.18 429.46V319.82M1794.12 488.9V392.47M1856.06 528.12V445.31M1918 575.68V505.4" stroke="#e377c2" stroke-width="3" fill="none"/>
<path d="" stroke="#2ca02c" stroke-width="5" fill="none"/>
<path d="" stroke="#d62728" stroke-width="5" fill="none"/>
<polyline points="1621.31,216.92 1622.89,218.27 1624.47,219.61 1626.06,220.94 1627.64,222.28 1629.22,223.61 1630.81,224.93 1632.39,226.26 1633.97,227.58 1635.56,228.89 1637.14,230.21 1638.72,231.52 1640.31,232.82 1641.89,234.13 1643.47,235.43 1645.06,236.73 1646.64,238.03 1648.22,239.32 1649.81,240.62 1651.39,241.91 1652.97,243.2 1654.56,244.48 1656.14,245.77 1657.72,247.05 1659.31,248.34 1660.89,249.62 1662.48,250.9 1664.06,252.17 1665.64,253.45 1667.23,254.73 1668.81,256 1670.39,257.28 1671.98,258.55 1673.56,259.83 1675.14,261.1 1676.73,262.37 1678.31,263.65 1679.89,264.92 1681.48,266.19 1683.06,267.47 1684.64,268.74 1686.23,270.01 1687.81,271.29 1689.39,272.56 1690.98,273.84 1692.56,275.11 1694.14,276.39 1695.73,277.67 1697.31,278.95 1698.89,280.24 1700.48,281.52 1702.06,282.81 1703.64,284.09 1705.23,285.38 1706.81,286.67 1708.39,287.97 1709.98,289.26 1711.56,290.56 1713.14,291.85 1714.73,293.15 1716.31,294.45 1717.9,295.75 1719.48,297.06 1721.06,298.36 1722.65,299.67 1724.23,300.98 1725.81,302.29 1727.4,303.6 1728.98,304.91 1730.56,306.22 1732.15,307.54 1733.73,308.86 1735.31,310.17 1736.9,311.49 1738.48,312.82 1740.06,314.14 1741.65,315.46 1743.23,316.79 1744.81,318.11 1746.4,319.44 1747.98,320.77 1749.56,322.1 1751.15,323.43 1752.73,324.77 1754.31,326.1 1755.9,327.44 1757.48,328.78 1759.06,330.12 1760.65,331.47 1762.23,332.82 1763.81,334.17 1765.4,335.52 1766.98,336.87 1768.56,338.23 1770.15,339.59 1771.73,340.95 1773.32,342.32 1774.9,343.68 1776.48,345.05 1778.07,346.42 1779.65,347.8 1781.23,349.17 1782.82,350.55 1784.4,351.93 1785.98,353.31 1787.57,354.7 1789.15,356.08 1790.73,357.47 1792.32,358.86 1793.9,360.26 1795.48,361.65 1797.07,363.05 1798.65,364.45 1800.23,365.85 1801.82,367.25 1803.4,368.65 1804.98,370.05 1806.57,371.46 1808.15,372.87 1809.73,374.28 1811.32,375.69 1812.9,377.1 1814.48,378.52 1816.07,379.93 1817.65,381.35 1819.23,382.76 1820.82,384.18 1822.4,385.6 1823.98,387.02 1825.57,388.44 1827.15,389.87 1828.74,391.29 1830.32,392.71 1831.9,394.14 1833.49,395.56 1835.07,396.99 1836.65,398.41 1838.24,399.84 1839.82,401.26 1841.4,402.69 1842.99,404.12 1844.57,405.54 1846.15,406.97 1847.74,408.4 1849.32,409.83 1850.9,411.26 1852.49,412.69 1854.07,414.12 1855.65,415.55 1857.24,416.98 1858.82,418.42 1860.4,419.85 1861.99,421.28 1863.57,422.72 1865.15,424.15 1866.74,425.58 1868.32,427.02 1869.9,428.45 1871.49,429.89 1873.07,431.32 1874.65,432.76 1876.24,434.19 1877.82,435.62 1879.4,437.06 1880.99,438.49 1882.57,439.92 1884.16,441.35 1885.74,442.78 1887.32,444.21 1888.91,445.64 1890.49,447.07 1892.07,448.5 1893.66,449.92 1895.24,451.35 1896.82,452.77 1898.41,454.2 1899.99,455.62 1901.57,457.04 1903.16,458.46 1904.74,459.87 1906.32,461.29 1907.91,462.7 1909.49,464.12 1911.07,465.53 1912.66,466.93 1914.24,468.34 1915.82,469.74 1917.41,471.15 1918.99,472.55 1920.57,473.94 1922.16,475.34 1923.74,476.73 1925.32,478.12 1926.91,479.51 1928.49,480.89 1930.07,482.28 1931.66,483.65 1933.24,485.03 1934.82,486.4 1936.41,487.77 1937.99,489.14 1939.58,490.51 1941.16,491.87 1942.74,493.22 1944.33,494.58 1945.91,495.92 1947.49,497.27 1949.08,498.61 1950.66,499.95 1952.24,501.28 1953.83,502.61 1955.41,503.94 1956.99,505.26 1958.58,506.57 1960.16,507.88 1961.74,509.19 1963.33,510.49 1964.91,511.79 1966.49,513.09 1968.08,514.38 1969.66,515.66 1971.24,516.94 1972.83,518.22 1974.41,519.49 1975.99,520.75 1977.58,522.01 1979.16,523.27 1980.74,524.52 1982.33,525.76 1983.91,527 1985.49,528.23 1987.08,529.46 1988.66,530.69 1990.24,531.91 1991.83,533.12 1993.41,534.33 1995,535.53 1996.58,536.73 1998.16,537.92 1999.75,539.1 2001.33,540.28 2002.91,541.45 2004.5,542.62 2006.08,543.78 2007.66,544.94 2009.25,546.09 2010.83,547.24 2012.41,548.38 2014,549.51 2015.58,550.63 2017.16,551.74 2018.75,552.84 2020.33,553.92 2021.91,554.99 2023.5,556.04 2025.08,557.08 2026.66,558.11 2028.25,559.12 2029.83,560.13 2031.41,561.12 2033,562.1 2034.58,563.08 2036.16,564.04 2037.75,564.99 2039.33,565.94 2040.91,566.88 2042.5,567.81 2044.08,568.73 2045.66,569.65 2047.25,570.56 2048.83,571.47 2050.42,572.37 2052,573.27 2053.58,574.16 2055.17,575.05 2056.75,575.94 2058.33,576.82 2059.92,577.7 2061.5,578.59 2063.08,579.47 2064.67,580.35 2066.25,581.23 2067.83,582.12 2069.42,583 2071,583.89 2072.58,584.78 2074.17,585.67 2075.75,586.56 2077.33,587.46 2078.92,588.36 2080.5,589.25 2082.08,590.13 2083.67,591.01 2085.25,591.89 2086.83,592.76 2088.42,593.62 2090,594.48 2091.58,595.34 2093.17,596.19 2094.75,597.03 2096.33,597.87 2097.92,598.7 2099.5,599.53 2101.08,600.35 2102.67,601.17 2104.25,601.98 2105.84,602.78 2107.42,603.58 2109,604.37 2110.59,605.15 2112.17,605.93 2113.75,606.71 2115.34,607.47 2116.92,608.23 2118.5,608.99 2120.09,609.73 2121.67,610.47 2123.25,611.21 2124.84,611.94 2126.42,612.66 2128,613.38 2129.59,614.09 2131.17,614.8 2132.75,615.5 2134.34,616.2 2135.92,616.89 2137.5,617.57 2139.09,618.25 2140.67,618.93 2142.25,619.6 2143.84,620.27 2145.42,620.92 2147,621.58 2148.59,622.23 2150.17,622.87 2151.75,623.51 2153.34,624.14 2154.92,624.77 2156.5,625.39 2158.09,626.01 2159.67,626.62 2161.26,627.23 2162.84,627.83 2164.42,628.43 2166.01,629.02 2167.59,629.61 2169.17,630.19 2170.76,630.76 2172.34,631.33 2173.92,631.9 2175.51,632.46 2177.09,633.01 2178.67,633.56 2180.26,634.11 2181.84,634.65 2183.42,635.18 2185.01,635.71 2186.59,636.24 2188.17,636.76 2189.76,637.27 2191.34,637.78 2192.92,638.28 2194.51,638.78 2196.09,639.28 2197.67,639.76 2199.26,640.25 2200.84,640.73 2202.42,641.2 2204.01,641.67 2205.59,642.13 2207.17,642.59 2208.76,643.04 2210.34,643.49 2211.92,643.94 2213.51,644.38 2215.09,644.81 2216.68,645.24 2218.26,645.66 2219.84,646.08 2221.43,646.5 2223.01,646.91 2224.59,647.31 2226.18,647.71 2227.76,648.11 2229.34,648.5 2230.93,648.88 2232.51,649.26 2234.09,649.64 2235.68,650.01 2237.26,650.37 2238.84,650.73 2240.43,651.09 2242.01,651.44 2243.59,651.79 2245.18,652.13 2246.76,652.47 2248.34,652.8 2249.93,653.13 2251.51,653.45 2253.09,653.77" fill="none" stroke="#1f77b4" stroke-width="8.33" stroke-linejoin="round" stroke-linecap="butt"/>
<polyline points="1621.31,215.1 1622.89,216.53 1624.47,217.96 1626.06,219.4 1627.64,220.84 1629.22,222.28 1630.81,223.71 1632.39,225.14 1633.97,226.56 1635.56,227.98 1637.14,229.4 1638.72,230.8 1640.31,232.21 1641.89,233.61 1643.47,235.01 1645.06,236.4 1646.64,237.79 1648.22,239.17 1649.81,240.55 1651.39,241.93 1652.97,243.31 1654.56,244.68 1656.14,246.04 1657.72,247.41 1659.31,248.77 1660.89,250.13 1662.48,251.49 1664.06,252.84 1665.64,254.19 1667.23,255.54 1668.81,256.89 1670.39,258.24 1671.98,259.58 1673.56,260.92 1675.14,262.26 1676.73,263.6 1678.31,264.94 1679.89,266.28 1681.48,267.61 1683.06,268.95 1684.64,270.28 1686.23,271.61 1687.81,272.95 1689.39,274.28 1690.98,275.61 1692.56,276.95 1694.14,278.3 1695.73,279.65 1697.31,281 1698.89,282.36 1700.48,283.73 1702.06,285.1 1703.64,286.47 1705.23,287.85 1706.81,289.23 1708.39,290.62 1709.98,292.01 1711.56,293.4 1713.14,294.8 1714.73,296.21 1716.31,297.61 1717.9,299.02 1719.48,300.44 1721.06,301.86 1722.65,303.28 1724.23,304.7 1725.81,306.13 1727.4,307.56 1728.98,309 1730.56,310.43 1732.15,311.87 1733.73,313.32 1735.31,314.76 1736.9,316.21 1738.48,317.66 1740.06,319.11 1741.65,320.56 1743.23,322.02 1744.81,323.47 1746.4,324.93 1747.98,326.39 1749.56,327.85 1751.15,329.32 1752.73,330.78 1754.31,332.27 1755.9,333.77 1757.48,335.28 1759.06,336.81 1760.65,338.35 1762.23,339.91 1763.81,341.47 1765.4,343.04 1766.98,344.62 1768.56,346.21 1770.15,347.81 1771.73,349.42 1773.32,351.03 1774.9,352.64 1776.48,354.26 1778.07,355.88 1779.65,357.51 1781.23,359.13 1782.82,360.76 1784.4,362.38 1785.98,364 1787.57,365.62 1789.15,367.24 1790.73,368.85 1792.32,370.46 1793.9,372.06 1795.48,373.66 1797.07,375.24 1798.65,376.82 1800.23,378.39 1801.82,379.95 1803.4,381.5 1804.98,383.03 1806.57,384.55 1808.15,386.06 1809.73,387.55 1811.32,389.02 1812.9,390.48 1814.48,391.92 1816.07,393.35 1817.65,394.76 1819.23,396.16 1820.82,397.56 1822.4,398.94 1823.98,400.31 1825.57,401.68 1827.15,403.04 1828.74,404.39 1830.32,405.73 1831.9,407.07 1833.49,408.4 1835.07,409.73 1836.65,411.06 1838.24,412.38 1839.82,413.7 1841.4,415.02 1842.99,416.34 1844.57,417.66 1846.15,418.98 1847.74,420.3 1849.32,421.62 1850.9,422.95 1852.49,424.28 1854.07,425.62 1855.65,426.96 1857.24,428.3 1858.82,429.66 1860.4,431.02 1861.99,432.39 1863.57,433.76 1865.15,435.15 1866.74,436.55 1868.32,437.96 1869.9,439.38 1871.49,440.81 1873.07,442.25 1874.65,443.71 1876.24,445.18 1877.82,446.66 1879.4,448.14 1880.99,449.62 1882.57,451.11 1884.16,452.6 1885.74,454.09 1887.32,455.59 1888.91,457.09 1890.49,458.59 1892.07,460.09 1893.66,461.59 1895.24,463.1 1896.82,464.6 1898.41,466.1 1899.99,467.61 1901.57,469.12 1903.16,470.62 1904.74,472.12 1906.32,473.63 1907.91,475.13 1909.49,476.63 1911.07,478.13 1912.66,479.62 1914.24,481.12 1915.82,482.61 1917.41,484.1 1918.99,485.58 1920.57,487.06 1922.16,488.54 1923.74,490.01 1925.32,491.48 1926.91,492.95 1928.49,494.41 1930.07,495.86 1931.66,497.31 1933.24,498.75 1934.82,500.19 1936.41,501.62 1937.99,503.04 1939.58,504.46 1941.16,505.88 1942.74,507.3 1944.33,508.71 1945.91,510.13 1947.49,511.53 1949.08,512.94 1950.66,514.34 1952.24,515.74 1953.83,517.13 1955.41,518.52 1956.99,519.9 1958.58,521.28 1960.16,522.65 1961.74,524.02 1963.33,525.38 1964.91,526.74 1966.49,528.09 1968.08,529.43 1969.66,530.77 1971.24,532.09 1972.83,533.42 1974.41,534.73 1975.99,536.03 1977.58,537.33 1979.16,538.62 1980.74,539.9 1982.33,541.17 1983.91,542.44 1985.49,543.69 1987.08,544.93 1988.66,546.16 1990.24,547.39 1991.83,548.6 1993.41,549.8 1995,550.99 1996.58,552.17 1998.16,553.34 1999.75,554.5 2001.33,555.64 2002.91,556.77 2004.5,557.88 2006.08,558.98 2007.66,560.06 2009.25,561.13 2010.83,562.18 2012.41,563.22 2014,564.25 2015.58,565.27 2017.16,566.27 2018.75,567.27 2020.33,568.25 2021.91,569.22 2023.5,570.18 2025.08,571.13 2026.66,572.08 2028.25,573.01 2029.83,573.93 2031.41,574.85 2033,575.76 2034.58,576.66 2036.16,577.56 2037.75,578.45 2039.33,579.33 2040.91,580.21 2042.5,581.08 2044.08,581.95 2045.66,582.82 2047.25,583.68 2048.83,584.54 2050.42,585.39 2052,586.25 2053.58,587.1 2055.17,587.95 2056.75,588.8 2058.33,589.64 2059.92,590.49 2061.5,591.34 2063.08,592.19 2064.67,593.02 2066.25,593.85 2067.83,594.68 2069.42,595.49 2071,596.3 2072.58,597.11 2074.17,597.91 2075.75,598.7 2077.33,599.48 2078.92,600.26 2080.5,601.03 2082.08,601.8 2083.67,602.56 2085.25,603.31 2086.83,604.06 2088.42,604.8 2090,605.54 2091.58,606.27 2093.17,607 2094.75,607.72 2096.33,608.43 2097.92,609.14 2099.5,609.85 2101.08,610.55 2102.67,611.24 2104.25,611.93 2105.84,612.61 2107.42,613.29 2109,613.96 2110.59,614.63 2112.17,615.3 2113.75,615.96 2115.34,616.62 2116.92,617.27 2118.5,617.91 2120.09,618.56 2121.67,619.2 2123.25,619.83 2124.84,620.47 2126.42,621.11 2128,621.75 2129.59,622.4 2131.17,623.05 2132.75,623.7 2134.34,624.36 2135.92,625.01 2137.5,625.67 2139.09,626.33 2140.67,626.99 2142.25,627.65 2143.84,628.31 2145.42,628.97 2147,629.63 2148.59,630.29 2150.17,630.95 2151.75,631.61 2153.34,632.26 2154.92,632.91 2156.5,633.56 2158.09,634.21 2159.67,634.85 2161.26,635.49 2162.84,636.12 2164.42,636.75 2166.01,637.37 2167.59,637.99 2169.17,638.61 2170.76,639.22 2172.34,639.82 2173.92,640.41 2175.51,641 2177.09,641.58 2178.67,642.15 2180.26,642.72 2181.84,643.27 2183.42,643.82 2185.01,644.36 2186.59,644.9 2188.17,645.43 2189.76,645.96 2191.34,646.5 2192.92,647.03 2194.51,647.57 2196.09,648.1 2197.67,648.63 2199.26,649.16 2200.84,649.68 2202.42,650.2 2204.01,650.72 2205.59,651.24 2207.17,651.75 2208.76,652.26 2210.34,652.76 2211.92,653.26 2213.51,653.76 2215.09,654.24 2216.68,654.72 2218.26,655.2 2219.84,655.67 2221.43,656.13 2223.01,656.58 2224.59,657.03 2226.18,657.47 2227.76,657.9 2229.34,658.32 2230.93,658.73 2232.51,659.13 2234.09,659.52 2235.68,659.91 2237.26,660.28 2238.84,660.64 2240.43,660.98 2242.01,661.32 2243.59,661.64 2245.18,661.96 2246.76,662.26 2248.34,662.55 2249.93,662.83 2251.51,663.11 2253.09,663.39" fill="none" stroke="#ff7f0e" stroke-width="8.63" stroke-linejoin="round" stroke-linecap="butt"/>
<path d="M1575.7 242.57h17.2M1575.7 155.07h17.2M1637.64 297.29h17.2M1637.64 217.37h17.2M1699.58 349.37h17.2M1699.58 276.55h17.2M1761.52 412.95h17.2M1761.52 347.56h17.2M1823.46 470.41h17.2M1823.46 411.62h17.2M1885.4 517.29h17.2M1885.4 465.13h17.2M1947.34 540.41h17.2M1947.34 495.5h17.2M2009.28 563.57h17.2M2009.28 524.89h17.2M2071.22 591.41h17.2M2071.22 559.64h17.2M2133.16 611.52h17.2M2133.16 584.41h17.2M2195.1 633.51h17.2M2195.1 611.52h17.2M2257.04 645.68h17.2M2257.04 629h17.2M2318.98 654.37h17.2M2318.98 641.28h17.2" stroke="#008000" stroke-width="4.8" fill="none"/>
<path d="M1526.92 163.12h17.2M1526.92 26.84h17.2M1588.86 189.65h17.2M1588.86 55.07h17.2M1650.8 240.49h17.2M1650.8 112.57h17.2M1712.74 321.47h17.2M1712.74 199.93h17.2M1774.68 399.34h17.2M1774.68 289.37h17.2M1836.62 512.54h17.2M1836.62 414.27h17.2M1898.56 552.96h17.2M1898.56 469.09h17.2M1960.5 589.95h17.2M1960.5 519.54h17.2M2022.44 618.01h17.2M2022.44 560.56h17.2M2084.38 636.47h17.2M2084.38 589.85h17.2M2146.32 647.07h17.2M2146.32 609.97h17.2M2208.26 655.39h17.2M2208.26 626.38h17.2M2270.2 660.88h17.2M2270.2 638.64h17.2" stroke="#9467bd" stroke-width="4.8" fill="none"/>
<path d="M1547.36 180.07h17.2M1547.36 47.57h17.2M1609.3 264.11h17.2M1609.3 145.22h17.2M1671.24 348.15h17.2M1671.24 242.87h17.2M1733.18 422.59h17.2M1733.18 326.42h17.2M1795.12 485.6h17.2M1795.12 400h17.2M1857.06 527.46h17.2M1857.06 452.58h17.2M1919 567.49h17.2M1919 502.76h17.2M1980.94 609.37h17.2M1980.94 554.28h17.2M2042.88 624.83h17.2M2042.88 578.39h17.2" stroke="#8c564b" stroke-width="4.8" fill="none"/>
<path d="M1537.76 195.07h17.2M1537.76 45.07h17.2M1599.7 265.07h17.2M1599.7 125.07h17.2M1661.64 355.81h17.2M1661.64 231.24h17.2M1723.58 429.46h17.2M1723.58 319.82h17.2M1785.52 488.9h17.2M1785.52 392.47h17.2M1847.46 528.12h17.2M1847.46 445.31h17.2M1909.4 575.68h17.2M1909.4 505.4h17.2" stroke="#e377c2" stroke-width="4.8" fill="none"/>
<polyline points="1621.31,184.17 1622.89,186.21 1624.47,188.24 1626.06,190.27 1627.64,192.28 1629.22,194.29 1630.81,196.29 1632.39,198.29 1633.97,200.28 1635.56,202.27 1637.14,204.25 1638.72,206.22 1640.31,208.19 1641.89,210.16 1643.47,212.11 1645.06,214.06 1646.64,216.01 1648.22,217.95 1649.81,219.88 1651.39,221.81 1652.97,223.74 1654.56,225.65 1656.14,227.55 1657.72,229.44 1659.31,231.32 1660.89,233.2 1662.48,235.06 1664.06,236.91 1665.64,238.76 1667.23,240.59 1668.81,242.42 1670.39,244.24 1671.98,246.05 1673.56,247.85 1675.14,249.65 1676.73,251.44 1678.31,253.22 1679.89,254.99 1681.48,256.76 1683.06,258.52 1684.64,260.27 1686.23,262.02 1687.81,263.76 1689.39,265.5 1690.98,267.23 1692.56,268.96 1694.14,270.68 1695.73,272.4 1697.31,274.11 1698.89,275.82 1700.48,277.52 1702.06,279.22 1703.64,280.92 1705.23,282.62 1706.81,284.3 1708.39,285.99 1709.98,287.67 1711.56,289.34 1713.14,291.01 1714.73,292.67 1716.31,294.33 1717.9,295.98 1719.48,297.63 1721.06,299.27 1722.65,300.9 1724.23,302.53 1725.81,304.15 1727.4,305.77 1728.98,307.39 1730.56,308.99 1732.15,310.6 1733.73,312.19 1735.31,313.78 1736.9,315.37 1738.48,316.95 1740.06,318.52 1741.65,320.09 1743.23,321.66 1744.81,323.21 1746.4,324.77 1747.98,326.31 1749.56,327.85 1751.15,329.39 1752.73,330.92 1754.31,332.44 1755.9,333.96 1757.48,335.47 1759.06,336.98 1760.65,338.48 1762.23,339.98 1763.81,341.47 1765.4,342.95 1766.98,344.43 1768.56,345.91 1770.15,347.37 1771.73,348.84 1773.32,350.29 1774.9,351.74 1776.48,353.19 1778.07,354.63 1779.65,356.06 1781.23,357.49 1782.82,358.91 1784.4,360.33 1785.98,361.73 1787.57,363.13 1789.15,364.52 1790.73,365.9 1792.32,367.28 1793.9,368.65 1795.48,370.01 1797.07,371.37 1798.65,372.71 1800.23,374.06 1801.82,375.39 1803.4,376.73 1804.98,378.05 1806.57,379.37 1808.15,380.69 1809.73,382 1811.32,383.31 1812.9,384.61 1814.48,385.91 1816.07,387.2 1817.65,388.49 1819.23,389.78 1820.82,391.06 1822.4,392.35 1823.98,393.63 1825.57,394.9 1827.15,396.18 1828.74,397.45 1830.32,398.72 1831.9,399.99 1833.49,401.26 1835.07,402.52 1836.65,403.79 1838.24,405.05 1839.82,406.32 1841.4,407.58 1842.99,408.85 1844.57,410.11 1846.15,411.37 1847.74,412.63 1849.32,413.88 1850.9,415.13 1852.49,416.37 1854.07,417.61 1855.65,418.84 1857.24,420.07 1858.82,421.29 1860.4,422.51 1861.99,423.72 1863.57,424.93 1865.15,426.14 1866.74,427.34 1868.32,428.53 1869.9,429.72 1871.49,430.9 1873.07,432.08 1874.65,433.26 1876.24,434.43 1877.82,435.6 1879.4,436.76 1880.99,437.91 1882.57,439.07 1884.16,440.21 1885.74,441.36 1887.32,442.5 1888.91,443.63 1890.49,444.76 1892.07,445.88 1893.66,447 1895.24,448.12 1896.82,449.23 1898.41,450.34 1899.99,451.44 1901.57,452.54 1903.16,453.63 1904.74,454.72 1906.32,455.8 1907.91,456.88 1909.49,457.96 1911.07,459.03 1912.66,460.1 1914.24,461.16 1915.82,462.22 1917.41,463.27 1918.99,464.32 1920.57,465.37 1922.16,466.41 1923.74,467.45 1925.32,468.48 1926.91,469.51 1928.49,470.53 1930.07,471.55 1931.66,472.57 1933.24,473.58 1934.82,474.59 1936.41,475.59 1937.99,476.59 1939.58,477.59 1941.16,478.58 1942.74,479.57 1944.33,480.55 1945.91,481.53 1947.49,482.5 1949.08,483.48 1950.66,484.44 1952.24,485.41 1953.83,486.36 1955.41,487.32 1956.99,488.27 1958.58,489.22 1960.16,490.16 1961.74,491.1 1963.33,492.04 1964.91,492.97 1966.49,493.9 1968.08,494.82 1969.66,495.74 1971.24,496.66 1972.83,497.57 1974.41,498.48 1975.99,499.39 1977.58,500.29 1979.16,501.19 1980.74,502.08 1982.33,502.97 1983.91,503.86 1985.49,504.74 1987.08,505.62 1988.66,506.5 1990.24,507.37 1991.83,508.24 1993.41,509.11 1995,509.97 1996.58,510.83 1998.16,511.68 1999.75,512.53 2001.33,513.38 2002.91,514.22 2004.5,515.07 2006.08,515.9 2007.66,516.74 2009.25,517.57 2010.83,518.39 2012.41,519.22 2014,520.04 2015.58,520.86 2017.16,521.67 2018.75,522.48 2020.33,523.29 2021.91,524.09 2023.5,524.89 2025.08,525.69 2026.66,526.48 2028.25,527.27 2029.83,528.06 2031.41,528.84 2033,529.62 2034.58,530.39 2036.16,531.15 2037.75,531.91 2039.33,532.66 2040.91,533.4 2042.5,534.14 2044.08,534.88 2045.66,535.61 2047.25,536.33 2048.83,537.05 2050.42,537.76 2052,538.47 2053.58,539.17 2055.17,539.87 2056.75,540.56 2058.33,541.25 2059.92,541.94 2061.5,542.62 2063.08,543.29 2064.67,543.97 2066.25,544.64 2067.83,545.3 2069.42,545.96 2071,546.62 2072.58,547.27 2074.17,547.93 2075.75,548.57 2077.33,549.22 2078.92,549.86 2080.5,550.5 2082.08,551.14 2083.67,551.77 2085.25,552.41 2086.83,553.04 2088.42,553.66 2090,554.29 2091.58,554.92 2093.17,555.54 2094.75,556.16 2096.33,556.78 2097.92,557.4 2099.5,558.02 2101.08,558.63 2102.67,559.25 2104.25,559.86 2105.84,560.48 2107.42,561.09 2109,561.7 2110.59,562.32 2112.17,562.93 2113.75,563.54 2115.34,564.15 2116.92,564.77 2118.5,565.38 2120.09,565.99 2121.67,566.61 2123.25,567.22 2124.84,567.84 2126.42,568.45 2128,569.06 2129.59,569.66 2131.17,570.27 2132.75,570.87 2134.34,571.47 2135.92,572.06 2137.5,572.65 2139.09,573.24 2140.67,573.83 2142.25,574.42 2143.84,575 2145.42,575.58 2147,576.16 2148.59,576.74 2150.17,577.31 2151.75,577.88 2153.34,578.45 2154.92,579.01 2156.5,579.58 2158.09,580.14 2159.67,580.69 2161.26,581.25 2162.84,581.8 2164.42,582.35 2166.01,582.9 2167.59,583.45 2169.17,583.99 2170.76,584.53 2172.34,585.07 2173.92,585.61 2175.51,586.14 2177.09,586.68 2178.67,587.2 2180.26,587.73 2181.84,588.26 2183.42,588.78 2185.01,589.3 2186.59,589.82 2188.17,590.33 2189.76,590.84 2191.34,591.35 2192.92,591.86 2194.51,592.37 2196.09,592.87 2197.67,593.37 2199.26,593.87 2200.84,594.37 2202.42,594.86 2204.01,595.35 2205.59,595.84 2207.17,596.33 2208.76,596.82 2210.34,597.3 2211.92,597.78 2213.51,598.26 2215.09,598.73 2216.68,599.21 2218.26,599.68 2219.84,600.15 2221.43,600.62 2223.01,601.08 2224.59,601.54 2226.18,602 2227.76,602.46 2229.34,602.92 2230.93,603.37 2232.51,603.82 2234.09,604.27 2235.68,604.72 2237.26,605.16 2238.84,605.61 2240.43,606.05 2242.01,606.48 2243.59,606.92 2245.18,607.36 2246.76,607.79 2248.34,608.22 2249.93,608.64 2251.51,609.07 2253.09,609.5" fill="none" stroke="#808080" stroke-width="6.4" stroke-linejoin="round" stroke-linecap="butt" stroke-dasharray="23.1 10" stroke-dashoffset="-6.6"/>
<polyline points="1621.31,-17.76 1622.89,-15.28 1624.47,-12.81 1626.06,-10.35 1627.64,-7.89 1629.22,-5.43 1630.81,-2.98 1632.39,-0.54 1633.97,1.9 1635.56,4.33 1637.14,6.76 1638.72,9.19 1640.31,11.6 1641.89,14.02 1643.47,16.42 1645.06,18.82 1646.64,21.22 1648.22,23.61 1649.81,26 1651.39,28.38 1652.97,30.75 1654.56,33.12 1656.14,35.48 1657.72,37.84 1659.31,40.19 1660.89,42.54 1662.48,44.88 1664.06,47.22 1665.64,49.55 1667.23,51.88 1668.81,54.2 1670.39,56.51 1671.98,58.82 1673.56,61.13 1675.14,63.42 1676.73,65.72 1678.31,68 1679.89,70.29 1681.48,72.56 1683.06,74.83 1684.64,77.1 1686.23,79.36 1687.81,81.61 1689.39,83.86 1690.98,86.11 1692.56,88.34 1694.14,90.58 1695.73,92.8 1697.31,95.02 1698.89,97.24 1700.48,99.45 1702.06,101.65 1703.64,103.85 1705.23,106.05 1706.81,108.23 1708.39,110.42 1709.98,112.59 1711.56,114.77 1713.14,116.93 1714.73,119.09 1716.31,121.25 1717.9,123.39 1719.48,125.54 1721.06,127.68 1722.65,129.81 1724.23,131.94 1725.81,134.06 1727.4,136.17 1728.98,138.28 1730.56,140.39 1732.15,142.49 1733.73,144.58 1735.31,146.67 1736.9,148.75 1738.48,150.83 1740.06,152.9 1741.65,154.96 1743.23,157.02 1744.81,159.08 1746.4,161.12 1747.98,163.15 1749.56,165.16 1751.15,167.16 1752.73,169.14 1754.31,171.11 1755.9,173.06 1757.48,175 1759.06,176.93 1760.65,178.84 1762.23,180.74 1763.81,182.63 1765.4,184.5 1766.98,186.37 1768.56,188.22 1770.15,190.06 1771.73,191.9 1773.32,193.72 1774.9,195.53 1776.48,197.34 1778.07,199.14 1779.65,200.93 1781.23,202.71 1782.82,204.49 1784.4,206.26 1785.98,208.02 1787.57,209.78 1789.15,211.54 1790.73,213.29 1792.32,215.03 1793.9,216.77 1795.48,218.51 1797.07,220.25 1798.65,221.98 1800.23,223.71 1801.82,225.44 1803.4,227.17 1804.98,228.9 1806.57,230.63 1808.15,232.36 1809.73,234.09 1811.32,235.82 1812.9,237.56 1814.48,239.29 1816.07,241.03 1817.65,242.77 1819.23,244.52 1820.82,246.27 1822.4,248.02 1823.98,249.78 1825.57,251.55 1827.15,253.31 1828.74,255.07 1830.32,256.83 1831.9,258.58 1833.49,260.32 1835.07,262.06 1836.65,263.79 1838.24,265.52 1839.82,267.24 1841.4,268.96 1842.99,270.67 1844.57,272.37 1846.15,274.07 1847.74,275.77 1849.32,277.46 1850.9,279.14 1852.49,280.82 1854.07,282.49 1855.65,284.16 1857.24,285.82 1858.82,287.48 1860.4,289.13 1861.99,290.78 1863.57,292.42 1865.15,294.05 1866.74,295.68 1868.32,297.31 1869.9,298.93 1871.49,300.54 1873.07,302.15 1874.65,303.75 1876.24,305.35 1877.82,306.96 1879.4,308.57 1880.99,310.2 1882.57,311.82 1884.16,313.45 1885.74,315.09 1887.32,316.72 1888.91,318.36 1890.49,320 1892.07,321.65 1893.66,323.29 1895.24,324.93 1896.82,326.57 1898.41,328.21 1899.99,329.84 1901.57,331.47 1903.16,333.1 1904.74,334.72 1906.32,336.33 1907.91,337.94 1909.49,339.54 1911.07,341.13 1912.66,342.72 1914.24,344.29 1915.82,345.85 1917.41,347.4 1918.99,348.94 1920.57,350.47 1922.16,351.98 1923.74,353.48 1925.32,354.98 1926.91,356.48 1928.49,357.96 1930.07,359.45 1931.66,360.93 1933.24,362.4 1934.82,363.86 1936.41,365.32 1937.99,366.78 1939.58,368.23 1941.16,369.67 1942.74,371.11 1944.33,372.55 1945.91,373.97 1947.49,375.4 1949.08,376.81 1950.66,378.22 1952.24,379.63 1953.83,381.03 1955.41,382.42 1956.99,383.81 1958.58,385.19 1960.16,386.57 1961.74,387.94 1963.33,389.31 1964.91,390.67 1966.49,392.02 1968.08,393.37 1969.66,394.71 1971.24,396.05 1972.83,397.38 1974.41,398.7 1975.99,400.02 1977.58,401.34 1979.16,402.64 1980.74,403.95 1982.33,405.24 1983.91,406.53 1985.49,407.81 1987.08,409.09 1988.66,410.36 1990.24,411.63 1991.83,412.89 1993.41,414.14 1995,415.39 1996.58,416.64 1998.16,417.87 1999.75,419.09 2001.33,420.29 2002.91,421.49 2004.5,422.68 2006.08,423.87 2007.66,425.05 2009.25,426.23 2010.83,427.4 2012.41,428.57 2014,429.74 2015.58,430.9 2017.16,432.05 2018.75,433.2 2020.33,434.35 2021.91,435.49 2023.5,436.63 2025.08,437.76 2026.66,438.89 2028.25,440.01 2029.83,441.13 2031.41,442.24 2033,443.35 2034.58,444.46 2036.16,445.56 2037.75,446.66 2039.33,447.75 2040.91,448.84 2042.5,449.92 2044.08,451 2045.66,452.08 2047.25,453.15 2048.83,454.21 2050.42,455.27 2052,456.33 2053.58,457.38 2055.17,458.43 2056.75,459.48 2058.33,460.52 2059.92,461.55 2061.5,462.59 2063.08,463.61 2064.67,464.64 2066.25,465.66 2067.83,466.67 2069.42,467.68 2071,468.69 2072.58,469.69 2074.17,470.69 2075.75,471.68 2077.33,472.67 2078.92,473.66 2080.5,474.64 2082.08,475.61 2083.67,476.59 2085.25,477.56 2086.83,478.52 2088.42,479.48 2090,480.44 2091.58,481.39 2093.17,482.34 2094.75,483.29 2096.33,484.23 2097.92,485.16 2099.5,486.1 2101.08,487.02 2102.67,487.95 2104.25,488.87 2105.84,489.79 2107.42,490.7 2109,491.61 2110.59,492.51 2112.17,493.42 2113.75,494.31 2115.34,495.21 2116.92,496.1 2118.5,496.98 2120.09,497.86 2121.67,498.74 2123.25,499.62 2124.84,500.49 2126.42,501.35 2128,502.22 2129.59,503.07 2131.17,503.93 2132.75,504.78 2134.34,505.63 2135.92,506.47 2137.5,507.31 2139.09,508.15 2140.67,508.98 2142.25,509.81 2143.84,510.64 2145.42,511.46 2147,512.28 2148.59,513.09 2150.17,513.9 2151.75,514.71 2153.34,515.51 2154.92,516.32 2156.5,517.11 2158.09,517.9 2159.67,518.69 2161.26,519.48 2162.84,520.26 2164.42,521.04 2166.01,521.82 2167.59,522.59 2169.17,523.36 2170.76,524.12 2172.34,524.88 2173.92,525.64 2175.51,526.4 2177.09,527.15 2178.67,527.9 2180.26,528.64 2181.84,529.38 2183.42,530.12 2185.01,530.85 2186.59,531.58 2188.17,532.31 2189.76,533.03 2191.34,533.76 2192.92,534.47 2194.51,535.19 2196.09,535.9 2197.67,536.61 2199.26,537.31 2200.84,538.01 2202.42,538.71 2204.01,539.4 2205.59,540.1 2207.17,540.78 2208.76,541.47 2210.34,542.15 2211.92,542.83 2213.51,543.5 2215.09,544.18 2216.68,544.85 2218.26,545.51 2219.84,546.18 2221.43,546.83 2223.01,547.49 2224.59,548.15 2226.18,548.8 2227.76,549.44 2229.34,550.09 2230.93,550.73 2232.51,551.37 2234.09,552 2235.68,552.64 2237.26,553.26 2238.84,553.89 2240.43,554.51 2242.01,555.13 2243.59,555.75 2245.18,556.37 2246.76,556.98 2248.34,557.59 2249.93,558.19 2251.51,558.8 2253.09,559.4" fill="none" stroke="#daa520" stroke-width="6.4" stroke-linejoin="round" stroke-linecap="butt" stroke-dasharray="40 10 6.25 10" stroke-dashoffset="23"/>
<g fill="#008000"><circle cx="1584.3" cy="195.07" r="4.8"/><circle cx="1646.24" cy="252.55" r="4.8"/><circle cx="1708.18" cy="312.52" r="4.8"/><circle cx="1770.12" cy="377.28" r="4.8"/><circle cx="1832.06" cy="434.74" r="4.8"/><circle cx="1894" cy="485.07" r="4.8"/><circle cx="1955.94" cy="519.54" r="4.8"/><circle cx="2017.88" cy="550.52" r="4.8"/><circle cx="2079.82" cy="580.46" r="4.8"/><circle cx="2141.76" cy="602.84" r="4.8"/><circle cx="2203.7" cy="623.41" r="4.8"/><circle cx="2265.64" cy="638.25" r="4.8"/><circle cx="2327.58" cy="648.48" r="4.8"/></g>
<g fill="#9467bd"><circle cx="1535.52" cy="115.07" r="4.8"/><circle cx="1597.46" cy="155.07" r="4.8"/><circle cx="1659.4" cy="219.38" r="4.8"/><circle cx="1721.34" cy="296.37" r="4.8"/><circle cx="1783.28" cy="370.01" r="4.8"/><circle cx="1845.22" cy="458.52" r="4.8"/><circle cx="1907.16" cy="506.86" r="4.8"/><circle cx="1969.1" cy="548.6" r="4.8"/><circle cx="2031.04" cy="581.53" r="4.8"/><circle cx="2092.98" cy="606.45" r="4.8"/><circle cx="2154.92" cy="623.65" r="4.8"/><circle cx="2216.86" cy="636.49" r="4.8"/><circle cx="2278.8" cy="646.51" r="4.8"/></g>
<g fill="#8c564b"><circle cx="1555.96" cy="125.07" r="4.8"/><circle cx="1617.9" cy="213.82" r="4.8"/><circle cx="1679.84" cy="302.58" r="4.8"/><circle cx="1741.78" cy="376.35" r="4.8"/><circle cx="1803.72" cy="440.29" r="4.8"/><circle cx="1865.66" cy="488.7" r="4.8"/><circle cx="1927.6" cy="531.69" r="4.8"/><circle cx="1989.54" cy="571.45" r="4.8"/><circle cx="2051.48" cy="594.35" r="4.8"/></g>
<g fill="#e377c2"><circle cx="1546.36" cy="132.57" r="4.8"/><circle cx="1608.3" cy="215.07" r="4.8"/><circle cx="1670.24" cy="303.9" r="4.8"/><circle cx="1732.18" cy="377.28" r="4.8"/><circle cx="1794.12" cy="440.03" r="4.8"/><circle cx="1856.06" cy="487.38" r="4.8"/><circle cx="1918" cy="533.8" r="4.8"/></g>
<g fill="#d62728"></g>
<g fill="#2ca02c"></g>
</g>
<rect x="1627.5" y="163.1" width="619.4" height="511.55" fill="none" stroke="#000" stroke-width="4.2"/>
<text x="1627.5" y="755" font-size="87.5" text-anchor="middle" textLength="127.99" lengthAdjust="spacing">−1</text>
<text x="1937.2" y="755" font-size="87.5" text-anchor="middle">0</text>
<text x="2246.9" y="755" font-size="87.5" text-anchor="middle">1</text>
<text x="1613" y="708.45" font-size="87.5" text-anchor="end">0</text>
<text x="1613" y="314.95" font-size="87.5" text-anchor="end" textLength="165.01" lengthAdjust="spacing">200</text>
</svg>
</body></html>
